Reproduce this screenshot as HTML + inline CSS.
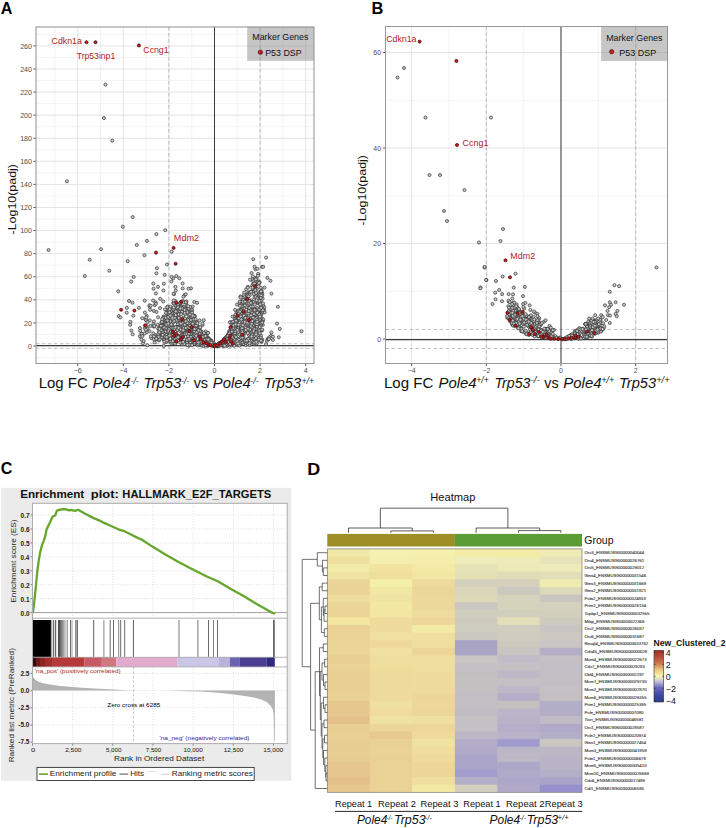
<!DOCTYPE html>
<html><head><meta charset="utf-8"><style>
html,body{margin:0;padding:0;background:#fff;width:726px;height:828px;overflow:hidden}
svg{display:block;font-family:"Liberation Sans", sans-serif}
</style></head><body>
<svg width="726" height="828" viewBox="0 0 726 828">
<rect x="0" y="0" width="726" height="828" fill="#fff"/>
<text x="0.8" y="14.1" font-size="16" fill="#000" font-weight="bold" textLength="11.63" lengthAdjust="spacingAndGlyphs">A</text>
<text x="371.6" y="14.2" font-size="16" fill="#000" font-weight="bold" textLength="11.84" lengthAdjust="spacingAndGlyphs">B</text>
<text x="0.84" y="474.4" font-size="16" fill="#000" font-weight="bold" textLength="11.6" lengthAdjust="spacingAndGlyphs">C</text>
<text x="307.2" y="474.5" font-size="16" fill="#000" font-weight="bold" textLength="12.95" lengthAdjust="spacingAndGlyphs">D</text>
<rect x="36" y="27" width="278" height="336.5" fill="#fff"/>
<line x1="54.9" y1="27" x2="54.9" y2="363.5" stroke="#efefef" stroke-width="0.7" />
<line x1="100.5" y1="27" x2="100.5" y2="363.5" stroke="#efefef" stroke-width="0.7" />
<line x1="146.1" y1="27" x2="146.1" y2="363.5" stroke="#efefef" stroke-width="0.7" />
<line x1="191.7" y1="27" x2="191.7" y2="363.5" stroke="#efefef" stroke-width="0.7" />
<line x1="237.3" y1="27" x2="237.3" y2="363.5" stroke="#efefef" stroke-width="0.7" />
<line x1="282.9" y1="27" x2="282.9" y2="363.5" stroke="#efefef" stroke-width="0.7" />
<line x1="36" y1="357.54" x2="314" y2="357.54" stroke="#efefef" stroke-width="0.7" />
<line x1="36" y1="334.46" x2="314" y2="334.46" stroke="#efefef" stroke-width="0.7" />
<line x1="36" y1="311.37" x2="314" y2="311.37" stroke="#efefef" stroke-width="0.7" />
<line x1="36" y1="288.29" x2="314" y2="288.29" stroke="#efefef" stroke-width="0.7" />
<line x1="36" y1="265.21" x2="314" y2="265.21" stroke="#efefef" stroke-width="0.7" />
<line x1="36" y1="242.12" x2="314" y2="242.12" stroke="#efefef" stroke-width="0.7" />
<line x1="36" y1="219.04" x2="314" y2="219.04" stroke="#efefef" stroke-width="0.7" />
<line x1="36" y1="195.95" x2="314" y2="195.95" stroke="#efefef" stroke-width="0.7" />
<line x1="36" y1="172.87" x2="314" y2="172.87" stroke="#efefef" stroke-width="0.7" />
<line x1="36" y1="149.79" x2="314" y2="149.79" stroke="#efefef" stroke-width="0.7" />
<line x1="36" y1="126.7" x2="314" y2="126.7" stroke="#efefef" stroke-width="0.7" />
<line x1="36" y1="103.62" x2="314" y2="103.62" stroke="#efefef" stroke-width="0.7" />
<line x1="36" y1="80.53" x2="314" y2="80.53" stroke="#efefef" stroke-width="0.7" />
<line x1="36" y1="57.45" x2="314" y2="57.45" stroke="#efefef" stroke-width="0.7" />
<line x1="36" y1="34.37" x2="314" y2="34.37" stroke="#efefef" stroke-width="0.7" />
<line x1="77.7" y1="27" x2="77.7" y2="363.5" stroke="#e3e3e3" stroke-width="0.95" />
<line x1="123.3" y1="27" x2="123.3" y2="363.5" stroke="#e3e3e3" stroke-width="0.95" />
<line x1="168.9" y1="27" x2="168.9" y2="363.5" stroke="#e3e3e3" stroke-width="0.95" />
<line x1="214.5" y1="27" x2="214.5" y2="363.5" stroke="#e3e3e3" stroke-width="0.95" />
<line x1="260.1" y1="27" x2="260.1" y2="363.5" stroke="#e3e3e3" stroke-width="0.95" />
<line x1="305.7" y1="27" x2="305.7" y2="363.5" stroke="#e3e3e3" stroke-width="0.95" />
<line x1="36" y1="346" x2="314" y2="346" stroke="#e3e3e3" stroke-width="0.95" />
<line x1="36" y1="322.92" x2="314" y2="322.92" stroke="#e3e3e3" stroke-width="0.95" />
<line x1="36" y1="299.83" x2="314" y2="299.83" stroke="#e3e3e3" stroke-width="0.95" />
<line x1="36" y1="276.75" x2="314" y2="276.75" stroke="#e3e3e3" stroke-width="0.95" />
<line x1="36" y1="253.66" x2="314" y2="253.66" stroke="#e3e3e3" stroke-width="0.95" />
<line x1="36" y1="230.58" x2="314" y2="230.58" stroke="#e3e3e3" stroke-width="0.95" />
<line x1="36" y1="207.5" x2="314" y2="207.5" stroke="#e3e3e3" stroke-width="0.95" />
<line x1="36" y1="184.41" x2="314" y2="184.41" stroke="#e3e3e3" stroke-width="0.95" />
<line x1="36" y1="161.33" x2="314" y2="161.33" stroke="#e3e3e3" stroke-width="0.95" />
<line x1="36" y1="138.24" x2="314" y2="138.24" stroke="#e3e3e3" stroke-width="0.95" />
<line x1="36" y1="115.16" x2="314" y2="115.16" stroke="#e3e3e3" stroke-width="0.95" />
<line x1="36" y1="92.08" x2="314" y2="92.08" stroke="#e3e3e3" stroke-width="0.95" />
<line x1="36" y1="68.99" x2="314" y2="68.99" stroke="#e3e3e3" stroke-width="0.95" />
<line x1="36" y1="45.91" x2="314" y2="45.91" stroke="#e3e3e3" stroke-width="0.95" />
<line x1="168.9" y1="27" x2="168.9" y2="363.5" stroke="#b0b0b0" stroke-width="0.8" stroke-dasharray="3.5,2.5"/>
<line x1="36" y1="348.31" x2="314" y2="348.31" stroke="#b0b0b0" stroke-width="0.8" stroke-dasharray="3.5,2.5"/>
<line x1="260.1" y1="27" x2="260.1" y2="363.5" stroke="#b0b0b0" stroke-width="0.8" stroke-dasharray="3.5,2.5"/>
<line x1="36" y1="343.69" x2="314" y2="343.69" stroke="#b0b0b0" stroke-width="0.8" stroke-dasharray="3.5,2.5"/>
<line x1="214.5" y1="27" x2="214.5" y2="363.5" stroke="#3a3a3a" stroke-width="1" />
<line x1="36" y1="345.5" x2="314" y2="345.5" stroke="#3c3c3c" stroke-width="1.25" />
<g fill="#c6c6c6" stroke="#333333" stroke-width="0.7"><circle cx="173.7" cy="314.3" r="1.55"/><circle cx="177.83" cy="316.29" r="1.55"/><circle cx="153.76" cy="310.86" r="1.55"/><circle cx="186.93" cy="331.09" r="1.55"/><circle cx="146.75" cy="332.29" r="1.55"/><circle cx="213.17" cy="343.46" r="1.55"/><circle cx="188.72" cy="318.32" r="1.55"/><circle cx="179.36" cy="278.29" r="1.55"/><circle cx="172.82" cy="334.65" r="1.55"/><circle cx="178.67" cy="320.1" r="1.55"/><circle cx="177.23" cy="321.7" r="1.55"/><circle cx="174.07" cy="294.03" r="1.55"/><circle cx="214.33" cy="345.69" r="1.55"/><circle cx="202.6" cy="324.96" r="1.55"/><circle cx="163.49" cy="290.54" r="1.55"/><circle cx="197.09" cy="302.83" r="1.55"/><circle cx="145.44" cy="319.32" r="1.55"/><circle cx="181.67" cy="306.21" r="1.55"/><circle cx="154.21" cy="326.7" r="1.55"/><circle cx="149.76" cy="320.35" r="1.55"/><circle cx="155.86" cy="293.43" r="1.55"/><circle cx="162.66" cy="337.71" r="1.55"/><circle cx="155.7" cy="302.39" r="1.55"/><circle cx="203.65" cy="320.21" r="1.55"/><circle cx="147.47" cy="345.23" r="1.55"/><circle cx="146.71" cy="315.96" r="1.55"/><circle cx="158.1" cy="317.29" r="1.55"/><circle cx="167.69" cy="306.63" r="1.55"/><circle cx="182.81" cy="336.39" r="1.55"/><circle cx="207.68" cy="332.88" r="1.55"/><circle cx="195.09" cy="341.71" r="1.55"/><circle cx="154.65" cy="342.41" r="1.55"/><circle cx="171.4" cy="281.48" r="1.55"/><circle cx="142.88" cy="343.31" r="1.55"/><circle cx="157.76" cy="324.73" r="1.55"/><circle cx="159.15" cy="333.31" r="1.55"/><circle cx="184.44" cy="295.13" r="1.55"/><circle cx="153.07" cy="325.87" r="1.55"/><circle cx="181.67" cy="335.37" r="1.55"/><circle cx="185.77" cy="294.18" r="1.55"/><circle cx="173.21" cy="278.35" r="1.55"/><circle cx="153.13" cy="300.55" r="1.55"/><circle cx="182.63" cy="283.47" r="1.55"/><circle cx="166.98" cy="338.15" r="1.55"/><circle cx="191.5" cy="316.08" r="1.55"/><circle cx="141.33" cy="339.54" r="1.55"/><circle cx="192.22" cy="343.32" r="1.55"/><circle cx="175.93" cy="326.6" r="1.55"/><circle cx="163.76" cy="345.95" r="1.55"/><circle cx="194.91" cy="338.81" r="1.55"/><circle cx="194.91" cy="324.67" r="1.55"/><circle cx="199.1" cy="339.88" r="1.55"/><circle cx="166.21" cy="323.33" r="1.55"/><circle cx="207.11" cy="336.72" r="1.55"/><circle cx="171.08" cy="330.92" r="1.55"/><circle cx="186.56" cy="301.53" r="1.55"/><circle cx="183.41" cy="317.84" r="1.55"/><circle cx="145.98" cy="320.04" r="1.55"/><circle cx="194.25" cy="301.97" r="1.55"/><circle cx="194.76" cy="315.83" r="1.55"/><circle cx="172.82" cy="334.36" r="1.55"/><circle cx="146.24" cy="328.02" r="1.55"/><circle cx="175.83" cy="290.58" r="1.55"/><circle cx="192.03" cy="309.8" r="1.55"/><circle cx="185.78" cy="340.27" r="1.55"/><circle cx="162.43" cy="322.83" r="1.55"/><circle cx="172.92" cy="338.2" r="1.55"/><circle cx="164.36" cy="321.94" r="1.55"/><circle cx="154.79" cy="305.02" r="1.55"/><circle cx="200.05" cy="339.82" r="1.55"/><circle cx="183.44" cy="296.79" r="1.55"/><circle cx="150.15" cy="309.75" r="1.55"/><circle cx="202.36" cy="335.11" r="1.55"/><circle cx="192.99" cy="342.4" r="1.55"/><circle cx="173.57" cy="293.81" r="1.55"/><circle cx="155.95" cy="303.81" r="1.55"/><circle cx="186.62" cy="309.56" r="1.55"/><circle cx="163.5" cy="334.42" r="1.55"/><circle cx="192.79" cy="315.08" r="1.55"/><circle cx="163.02" cy="330.99" r="1.55"/><circle cx="186.87" cy="306.15" r="1.55"/><circle cx="186.93" cy="321.16" r="1.55"/><circle cx="200.15" cy="343.01" r="1.55"/><circle cx="190.99" cy="288.35" r="1.55"/><circle cx="175.4" cy="286.87" r="1.55"/><circle cx="160.29" cy="298.89" r="1.55"/><circle cx="191.95" cy="311.47" r="1.55"/><circle cx="185.78" cy="328.45" r="1.55"/><circle cx="169.32" cy="331.02" r="1.55"/><circle cx="149.68" cy="306.65" r="1.55"/><circle cx="186.6" cy="339.52" r="1.55"/><circle cx="168.07" cy="314.95" r="1.55"/><circle cx="205.51" cy="331.37" r="1.55"/><circle cx="188.52" cy="288.75" r="1.55"/><circle cx="193.78" cy="332.92" r="1.55"/><circle cx="187.8" cy="325.67" r="1.55"/><circle cx="155.89" cy="338.8" r="1.55"/><circle cx="213.05" cy="344.37" r="1.55"/><circle cx="180" cy="330.94" r="1.55"/><circle cx="163.87" cy="339.52" r="1.55"/><circle cx="181" cy="329.31" r="1.55"/><circle cx="176.31" cy="276.05" r="1.55"/><circle cx="164.96" cy="330.73" r="1.55"/><circle cx="178.48" cy="326.1" r="1.55"/><circle cx="202.58" cy="323.63" r="1.55"/><circle cx="156.5" cy="311.92" r="1.55"/><circle cx="161.62" cy="326.48" r="1.55"/><circle cx="187.6" cy="311.64" r="1.55"/><circle cx="163.22" cy="301.45" r="1.55"/><circle cx="202.97" cy="338.84" r="1.55"/><circle cx="155.51" cy="335.26" r="1.55"/><circle cx="182.69" cy="288.47" r="1.55"/><circle cx="179.92" cy="310.23" r="1.55"/><circle cx="169.84" cy="331.68" r="1.55"/><circle cx="181.93" cy="309.35" r="1.55"/><circle cx="180.13" cy="303.79" r="1.55"/><circle cx="211.29" cy="340.49" r="1.55"/><circle cx="160.06" cy="308.07" r="1.55"/><circle cx="149.46" cy="305.22" r="1.55"/><circle cx="200.77" cy="338.84" r="1.55"/><circle cx="146.58" cy="325.93" r="1.55"/><circle cx="141.45" cy="333.45" r="1.55"/><circle cx="150.37" cy="326.05" r="1.55"/><circle cx="144.4" cy="333.49" r="1.55"/><circle cx="139.89" cy="336.27" r="1.55"/><circle cx="140.21" cy="330.76" r="1.55"/><circle cx="147.55" cy="328.92" r="1.55"/><circle cx="144.76" cy="328.34" r="1.55"/><circle cx="147.53" cy="321.99" r="1.55"/><circle cx="141.68" cy="333.78" r="1.55"/><circle cx="149.49" cy="331.24" r="1.55"/><circle cx="153.32" cy="333.29" r="1.55"/><circle cx="153.42" cy="323.82" r="1.55"/><circle cx="151.33" cy="338.26" r="1.55"/><circle cx="154.25" cy="325.9" r="1.55"/><circle cx="143.67" cy="341.07" r="1.55"/><circle cx="153.98" cy="321.35" r="1.55"/><circle cx="142.31" cy="336.16" r="1.55"/><circle cx="170.44" cy="319.4" r="1.55"/><circle cx="178.97" cy="309.24" r="1.55"/><circle cx="195.6" cy="341.92" r="1.55"/><circle cx="185.63" cy="308.49" r="1.55"/><circle cx="167.13" cy="338.65" r="1.55"/><circle cx="182.49" cy="321.48" r="1.55"/><circle cx="185.66" cy="319.78" r="1.55"/><circle cx="190.76" cy="338.84" r="1.55"/><circle cx="165.79" cy="320.88" r="1.55"/><circle cx="192.45" cy="318.61" r="1.55"/><circle cx="190.68" cy="337.02" r="1.55"/><circle cx="170.37" cy="341.92" r="1.55"/><circle cx="208.34" cy="340.47" r="1.55"/><circle cx="175.33" cy="316.36" r="1.55"/><circle cx="193" cy="328.7" r="1.55"/><circle cx="168.81" cy="315.54" r="1.55"/><circle cx="194.26" cy="326.2" r="1.55"/><circle cx="186.72" cy="329.54" r="1.55"/><circle cx="196.72" cy="335.04" r="1.55"/><circle cx="178.89" cy="317.28" r="1.55"/><circle cx="208.89" cy="344.49" r="1.55"/><circle cx="188.79" cy="345.77" r="1.55"/><circle cx="192.96" cy="327.49" r="1.55"/><circle cx="184.48" cy="328.11" r="1.55"/><circle cx="190.57" cy="316.82" r="1.55"/><circle cx="172" cy="313.04" r="1.55"/><circle cx="208.4" cy="345.48" r="1.55"/><circle cx="208.88" cy="344.77" r="1.55"/><circle cx="169.5" cy="324.07" r="1.55"/><circle cx="210.77" cy="345.03" r="1.55"/><circle cx="162.4" cy="320.96" r="1.55"/><circle cx="170.6" cy="326.78" r="1.55"/><circle cx="169.19" cy="336.08" r="1.55"/><circle cx="192.19" cy="316.52" r="1.55"/><circle cx="171.15" cy="327.22" r="1.55"/><circle cx="192.67" cy="334.65" r="1.55"/><circle cx="166.29" cy="342.12" r="1.55"/><circle cx="158.62" cy="328.67" r="1.55"/><circle cx="161.1" cy="324.92" r="1.55"/><circle cx="192.55" cy="317.17" r="1.55"/><circle cx="183.47" cy="334.26" r="1.55"/><circle cx="162.13" cy="335.36" r="1.55"/><circle cx="167.68" cy="319.52" r="1.55"/><circle cx="170.36" cy="330.07" r="1.55"/><circle cx="187.64" cy="319.67" r="1.55"/><circle cx="176.97" cy="304.46" r="1.55"/><circle cx="183.85" cy="331.53" r="1.55"/><circle cx="172.78" cy="309.81" r="1.55"/><circle cx="173.08" cy="313.01" r="1.55"/><circle cx="163.5" cy="316.46" r="1.55"/><circle cx="198.2" cy="332.63" r="1.55"/><circle cx="188.87" cy="342.25" r="1.55"/><circle cx="173.13" cy="314.61" r="1.55"/><circle cx="178.78" cy="311.42" r="1.55"/><circle cx="176.52" cy="316.82" r="1.55"/><circle cx="176.62" cy="308.97" r="1.55"/><circle cx="188.55" cy="336.67" r="1.55"/><circle cx="187.16" cy="308.12" r="1.55"/><circle cx="200.16" cy="340.52" r="1.55"/><circle cx="171.75" cy="325.03" r="1.55"/><circle cx="188.76" cy="344.46" r="1.55"/><circle cx="193.75" cy="325.15" r="1.55"/><circle cx="192.73" cy="306.62" r="1.55"/><circle cx="200.5" cy="344.54" r="1.55"/><circle cx="195.01" cy="322.71" r="1.55"/><circle cx="186.97" cy="342.09" r="1.55"/><circle cx="179.43" cy="338.01" r="1.55"/><circle cx="194.67" cy="338.36" r="1.55"/><circle cx="207.87" cy="344.06" r="1.55"/><circle cx="193.1" cy="336.9" r="1.55"/><circle cx="180.09" cy="319.34" r="1.55"/><circle cx="163.7" cy="317.27" r="1.55"/><circle cx="164.98" cy="309.4" r="1.55"/><circle cx="180.28" cy="302.72" r="1.55"/><circle cx="182.3" cy="326.87" r="1.55"/><circle cx="167.93" cy="310.83" r="1.55"/><circle cx="171.72" cy="307.94" r="1.55"/><circle cx="200.07" cy="337.59" r="1.55"/><circle cx="183.53" cy="311.98" r="1.55"/><circle cx="168.15" cy="336.87" r="1.55"/><circle cx="177.91" cy="324.27" r="1.55"/><circle cx="185.69" cy="330.25" r="1.55"/><circle cx="183.12" cy="332.81" r="1.55"/><circle cx="164.34" cy="339.99" r="1.55"/><circle cx="185.71" cy="329.3" r="1.55"/><circle cx="171.06" cy="332.96" r="1.55"/><circle cx="189.9" cy="339.44" r="1.55"/><circle cx="173.06" cy="342.17" r="1.55"/><circle cx="160.41" cy="338.01" r="1.55"/><circle cx="167.4" cy="307.25" r="1.55"/><circle cx="173.49" cy="321.49" r="1.55"/><circle cx="195.88" cy="321.24" r="1.55"/><circle cx="193.91" cy="332.66" r="1.55"/><circle cx="169.13" cy="325.95" r="1.55"/><circle cx="182.26" cy="336.77" r="1.55"/><circle cx="167.3" cy="328.34" r="1.55"/><circle cx="172.28" cy="313.72" r="1.55"/><circle cx="175.07" cy="318.04" r="1.55"/><circle cx="194.67" cy="333.65" r="1.55"/><circle cx="174.6" cy="343.47" r="1.55"/><circle cx="188.49" cy="338.04" r="1.55"/><circle cx="178.94" cy="338.5" r="1.55"/><circle cx="193.51" cy="335.28" r="1.55"/><circle cx="178.84" cy="336.32" r="1.55"/><circle cx="194.28" cy="328" r="1.55"/><circle cx="185.31" cy="328.13" r="1.55"/><circle cx="164.42" cy="335.26" r="1.55"/><circle cx="163.43" cy="332.82" r="1.55"/><circle cx="189.3" cy="332.07" r="1.55"/><circle cx="174.59" cy="321.3" r="1.55"/><circle cx="163.07" cy="325.79" r="1.55"/><circle cx="188.34" cy="312.16" r="1.55"/><circle cx="162.3" cy="337.93" r="1.55"/><circle cx="172.17" cy="326.38" r="1.55"/><circle cx="187.6" cy="308.28" r="1.55"/><circle cx="194.17" cy="333.93" r="1.55"/><circle cx="177.71" cy="327.23" r="1.55"/><circle cx="163.51" cy="317.77" r="1.55"/><circle cx="188.89" cy="312.13" r="1.55"/><circle cx="188.8" cy="315.28" r="1.55"/><circle cx="182.96" cy="331.71" r="1.55"/><circle cx="200.1" cy="334.58" r="1.55"/><circle cx="183.9" cy="339.33" r="1.55"/><circle cx="179.34" cy="319.96" r="1.55"/><circle cx="188.68" cy="324.15" r="1.55"/><circle cx="180.72" cy="341.6" r="1.55"/><circle cx="174.08" cy="341.41" r="1.55"/><circle cx="198.55" cy="327.49" r="1.55"/><circle cx="184.91" cy="331.97" r="1.55"/><circle cx="186.31" cy="311" r="1.55"/><circle cx="173.22" cy="303.15" r="1.55"/><circle cx="209.22" cy="344.46" r="1.55"/><circle cx="194.61" cy="337.04" r="1.55"/><circle cx="168.2" cy="334.34" r="1.55"/><circle cx="188.72" cy="336.45" r="1.55"/><circle cx="162.37" cy="324.73" r="1.55"/><circle cx="174.32" cy="302.88" r="1.55"/><circle cx="210.57" cy="344.95" r="1.55"/><circle cx="183.12" cy="342.44" r="1.55"/><circle cx="207.34" cy="345.79" r="1.55"/><circle cx="167.02" cy="340.49" r="1.55"/><circle cx="198.18" cy="340" r="1.55"/><circle cx="168.28" cy="314.13" r="1.55"/><circle cx="194.54" cy="336.36" r="1.55"/><circle cx="177.16" cy="327.14" r="1.55"/><circle cx="168.63" cy="313.84" r="1.55"/><circle cx="181.2" cy="302.09" r="1.55"/><circle cx="190.68" cy="313.09" r="1.55"/><circle cx="169.93" cy="313.12" r="1.55"/><circle cx="171.61" cy="341.26" r="1.55"/><circle cx="182.47" cy="342.75" r="1.55"/><circle cx="184.74" cy="308.28" r="1.55"/><circle cx="188.08" cy="330.28" r="1.55"/><circle cx="185.08" cy="323.94" r="1.55"/><circle cx="181.21" cy="335.56" r="1.55"/><circle cx="168.16" cy="326.68" r="1.55"/><circle cx="184.69" cy="332.88" r="1.55"/><circle cx="189.07" cy="340.15" r="1.55"/><circle cx="165.71" cy="322.82" r="1.55"/><circle cx="180.86" cy="320.32" r="1.55"/><circle cx="170.65" cy="341.74" r="1.55"/><circle cx="188.85" cy="324.99" r="1.55"/><circle cx="191.96" cy="327.08" r="1.55"/><circle cx="160.26" cy="337.75" r="1.55"/><circle cx="165.21" cy="331.77" r="1.55"/><circle cx="204.44" cy="336.19" r="1.55"/><circle cx="184.13" cy="306.65" r="1.55"/><circle cx="182.09" cy="334.27" r="1.55"/><circle cx="178.38" cy="313.71" r="1.55"/><circle cx="200.42" cy="333.77" r="1.55"/><circle cx="168.68" cy="311.12" r="1.55"/><circle cx="182.46" cy="342.89" r="1.55"/><circle cx="176.66" cy="328.1" r="1.55"/><circle cx="193.66" cy="331.96" r="1.55"/><circle cx="207.74" cy="338.78" r="1.55"/><circle cx="177.68" cy="335.94" r="1.55"/><circle cx="167.82" cy="325.28" r="1.55"/><circle cx="167.76" cy="320.57" r="1.55"/><circle cx="159.33" cy="331.8" r="1.55"/><circle cx="176.59" cy="308.37" r="1.55"/><circle cx="170.61" cy="318.08" r="1.55"/><circle cx="176.4" cy="341.73" r="1.55"/><circle cx="177.87" cy="314.96" r="1.55"/><circle cx="163.98" cy="327.39" r="1.55"/><circle cx="163.09" cy="332.5" r="1.55"/><circle cx="170.49" cy="306.77" r="1.55"/><circle cx="167.19" cy="312.9" r="1.55"/><circle cx="197.41" cy="339.83" r="1.55"/><circle cx="168.45" cy="313.44" r="1.55"/><circle cx="175.52" cy="301.13" r="1.55"/><circle cx="192.51" cy="326.03" r="1.55"/><circle cx="196.01" cy="339.95" r="1.55"/><circle cx="168.96" cy="329.1" r="1.55"/><circle cx="177.81" cy="315.1" r="1.55"/><circle cx="184.58" cy="318.51" r="1.55"/><circle cx="183.28" cy="307.67" r="1.55"/><circle cx="180.13" cy="306.94" r="1.55"/><circle cx="189.67" cy="332.21" r="1.55"/><circle cx="184.49" cy="326.95" r="1.55"/><circle cx="182.9" cy="301.08" r="1.55"/><circle cx="175.65" cy="341.02" r="1.55"/><circle cx="188.66" cy="308.56" r="1.55"/><circle cx="182.92" cy="328.3" r="1.55"/><circle cx="211.8" cy="343.35" r="1.55"/><circle cx="191.94" cy="312.7" r="1.55"/><circle cx="204.36" cy="340.47" r="1.55"/><circle cx="177.72" cy="306.25" r="1.55"/><circle cx="185.17" cy="314.2" r="1.55"/><circle cx="176.44" cy="308.85" r="1.55"/><circle cx="168.6" cy="331.29" r="1.55"/><circle cx="168.96" cy="318.12" r="1.55"/><circle cx="169.24" cy="322.71" r="1.55"/><circle cx="193.68" cy="325.8" r="1.55"/><circle cx="204.45" cy="344.57" r="1.55"/><circle cx="174.84" cy="314.41" r="1.55"/><circle cx="197.6" cy="331.99" r="1.55"/><circle cx="191.99" cy="322.57" r="1.55"/><circle cx="188.55" cy="334.45" r="1.55"/><circle cx="186.77" cy="310.9" r="1.55"/><circle cx="169.83" cy="323.63" r="1.55"/><circle cx="181.87" cy="335.52" r="1.55"/><circle cx="183.6" cy="340.01" r="1.55"/><circle cx="185.19" cy="332.93" r="1.55"/><circle cx="169.98" cy="332.92" r="1.55"/><circle cx="174.45" cy="338.76" r="1.55"/><circle cx="180.03" cy="338.23" r="1.55"/><circle cx="177.43" cy="308.49" r="1.55"/><circle cx="179.95" cy="329.05" r="1.55"/><circle cx="173.4" cy="336.82" r="1.55"/><circle cx="200.54" cy="345.12" r="1.55"/><circle cx="178.17" cy="336.81" r="1.55"/><circle cx="161.37" cy="322.46" r="1.55"/><circle cx="171.3" cy="310.47" r="1.55"/><circle cx="183.69" cy="302.36" r="1.55"/><circle cx="173.41" cy="322.24" r="1.55"/><circle cx="167.03" cy="319.07" r="1.55"/><circle cx="158.43" cy="328.66" r="1.55"/><circle cx="171.49" cy="343.19" r="1.55"/><circle cx="176.36" cy="334.66" r="1.55"/><circle cx="173.45" cy="309.67" r="1.55"/><circle cx="186.37" cy="333.83" r="1.55"/><circle cx="178.76" cy="336.94" r="1.55"/><circle cx="178.11" cy="337.29" r="1.55"/><circle cx="176.7" cy="329.35" r="1.55"/><circle cx="176.07" cy="314.79" r="1.55"/><circle cx="184.9" cy="324.71" r="1.55"/><circle cx="180.59" cy="318.78" r="1.55"/><circle cx="171.27" cy="314.82" r="1.55"/><circle cx="165.91" cy="316.43" r="1.55"/><circle cx="177.5" cy="329.62" r="1.55"/><circle cx="167.63" cy="339.39" r="1.55"/><circle cx="192.4" cy="323.22" r="1.55"/><circle cx="188.78" cy="331.73" r="1.55"/><circle cx="181.97" cy="330.61" r="1.55"/><circle cx="179.95" cy="327.63" r="1.55"/><circle cx="189.08" cy="323.7" r="1.55"/><circle cx="190.38" cy="342.85" r="1.55"/><circle cx="164.04" cy="333.95" r="1.55"/><circle cx="173.62" cy="333.89" r="1.55"/><circle cx="184.22" cy="329.86" r="1.55"/><circle cx="204.34" cy="345.71" r="1.55"/><circle cx="158.86" cy="340.02" r="1.55"/><circle cx="186.91" cy="339.82" r="1.55"/><circle cx="188.02" cy="336.21" r="1.55"/><circle cx="184.2" cy="339.33" r="1.55"/><circle cx="175.57" cy="305.4" r="1.55"/><circle cx="165.81" cy="317.88" r="1.55"/><circle cx="194.77" cy="319.82" r="1.55"/><circle cx="171.57" cy="327.74" r="1.55"/><circle cx="196.34" cy="331.91" r="1.55"/><circle cx="181.15" cy="307.49" r="1.55"/><circle cx="159.25" cy="333.97" r="1.55"/><circle cx="164.26" cy="341.8" r="1.55"/><circle cx="195.23" cy="326.11" r="1.55"/><circle cx="177.52" cy="304.54" r="1.55"/><circle cx="191.45" cy="322.16" r="1.55"/><circle cx="180.55" cy="324.26" r="1.55"/><circle cx="210.85" cy="340.86" r="1.55"/><circle cx="188.2" cy="320.04" r="1.55"/><circle cx="206.54" cy="342.38" r="1.55"/><circle cx="180.43" cy="342.58" r="1.55"/><circle cx="176.23" cy="320.21" r="1.55"/><circle cx="156.01" cy="336.58" r="1.55"/><circle cx="169.58" cy="312.35" r="1.55"/><circle cx="195.43" cy="337.63" r="1.55"/><circle cx="167.29" cy="338.99" r="1.55"/><circle cx="167.73" cy="323.75" r="1.55"/><circle cx="173.35" cy="327.97" r="1.55"/><circle cx="186.12" cy="302.83" r="1.55"/><circle cx="208.03" cy="342.67" r="1.55"/><circle cx="197.19" cy="338.21" r="1.55"/><circle cx="173.49" cy="309.21" r="1.55"/><circle cx="191.56" cy="324.99" r="1.55"/><circle cx="174.61" cy="329.15" r="1.55"/><circle cx="189.85" cy="344.89" r="1.55"/><circle cx="203.79" cy="341.07" r="1.55"/><circle cx="195.82" cy="331.79" r="1.55"/><circle cx="177.08" cy="329.4" r="1.55"/><circle cx="165.63" cy="324.55" r="1.55"/><circle cx="160.94" cy="329.04" r="1.55"/><circle cx="198.36" cy="338.5" r="1.55"/><circle cx="190.94" cy="336.87" r="1.55"/><circle cx="167.84" cy="335.54" r="1.55"/><circle cx="159.48" cy="330.4" r="1.55"/><circle cx="207.99" cy="332.94" r="1.55"/><circle cx="173.94" cy="303.5" r="1.55"/><circle cx="201.33" cy="332.93" r="1.55"/><circle cx="183.71" cy="309.63" r="1.55"/><circle cx="157.52" cy="337.7" r="1.55"/><circle cx="170.37" cy="321.4" r="1.55"/><circle cx="165.6" cy="323.99" r="1.55"/><circle cx="205.17" cy="336.49" r="1.55"/><circle cx="205.13" cy="342.51" r="1.55"/><circle cx="177.4" cy="330.04" r="1.55"/><circle cx="205.99" cy="338.49" r="1.55"/><circle cx="161.61" cy="337.37" r="1.55"/><circle cx="197.9" cy="334.66" r="1.55"/><circle cx="158.89" cy="335.17" r="1.55"/><circle cx="204.98" cy="341.59" r="1.55"/><circle cx="178.01" cy="307.17" r="1.55"/><circle cx="209.43" cy="342.84" r="1.55"/><circle cx="182.56" cy="343.03" r="1.55"/><circle cx="187.49" cy="322.96" r="1.55"/><circle cx="208.49" cy="343.63" r="1.55"/><circle cx="168.14" cy="322.14" r="1.55"/><circle cx="178.83" cy="317.86" r="1.55"/><circle cx="180.18" cy="302.69" r="1.55"/><circle cx="204.23" cy="341.55" r="1.55"/><circle cx="176.98" cy="311.46" r="1.55"/><circle cx="158.2" cy="333.96" r="1.55"/><circle cx="166.39" cy="335" r="1.55"/><circle cx="182.46" cy="344.19" r="1.55"/><circle cx="189.09" cy="331.4" r="1.55"/><circle cx="175.06" cy="313.49" r="1.55"/><circle cx="190.07" cy="325.87" r="1.55"/><circle cx="184.26" cy="334.72" r="1.55"/><circle cx="168.88" cy="335.92" r="1.55"/><circle cx="178.59" cy="314.39" r="1.55"/><circle cx="194.49" cy="316.5" r="1.55"/><circle cx="171.84" cy="335.95" r="1.55"/><circle cx="201.27" cy="341.6" r="1.55"/><circle cx="191.04" cy="330.6" r="1.55"/><circle cx="210.4" cy="341.53" r="1.55"/><circle cx="198.06" cy="330.04" r="1.55"/><circle cx="194.48" cy="324.46" r="1.55"/><circle cx="200.84" cy="335.18" r="1.55"/><circle cx="198.97" cy="332.37" r="1.55"/><circle cx="159.37" cy="332.25" r="1.55"/><circle cx="197.92" cy="342.28" r="1.55"/><circle cx="193.64" cy="332.08" r="1.55"/><circle cx="159.08" cy="340.35" r="1.55"/><circle cx="187.01" cy="342.9" r="1.55"/><circle cx="165.2" cy="336.9" r="1.55"/><circle cx="159.71" cy="339.24" r="1.55"/><circle cx="181.52" cy="319.47" r="1.55"/><circle cx="194.15" cy="343.85" r="1.55"/><circle cx="182.85" cy="335.57" r="1.55"/><circle cx="158.58" cy="336.87" r="1.55"/><circle cx="162.41" cy="325.16" r="1.55"/><circle cx="162.24" cy="325.9" r="1.55"/><circle cx="188.96" cy="328.04" r="1.55"/><circle cx="204.64" cy="337.69" r="1.55"/><circle cx="188.49" cy="313.63" r="1.55"/><circle cx="195.59" cy="325.38" r="1.55"/><circle cx="168.33" cy="316.83" r="1.55"/><circle cx="156.01" cy="339.21" r="1.55"/><circle cx="175.6" cy="327.39" r="1.55"/><circle cx="186.97" cy="344.91" r="1.55"/><circle cx="208.85" cy="338.36" r="1.55"/><circle cx="199.07" cy="327.4" r="1.55"/><circle cx="171.16" cy="331.86" r="1.55"/><circle cx="187.5" cy="327.32" r="1.55"/><circle cx="172.81" cy="335.14" r="1.55"/><circle cx="202.36" cy="336.77" r="1.55"/><circle cx="201" cy="337.63" r="1.55"/><circle cx="190.11" cy="314.5" r="1.55"/><circle cx="199.81" cy="344.03" r="1.55"/><circle cx="195.08" cy="325.62" r="1.55"/><circle cx="211.44" cy="345.45" r="1.55"/><circle cx="197.43" cy="326.1" r="1.55"/><circle cx="167.57" cy="320.58" r="1.55"/><circle cx="170.31" cy="315.52" r="1.55"/><circle cx="160.22" cy="326.71" r="1.55"/><circle cx="169.35" cy="325.38" r="1.55"/><circle cx="206.61" cy="345.05" r="1.55"/><circle cx="190.09" cy="331.03" r="1.55"/><circle cx="197.87" cy="343.73" r="1.55"/><circle cx="200.45" cy="331.03" r="1.55"/><circle cx="201.21" cy="331.3" r="1.55"/><circle cx="180.3" cy="342.43" r="1.55"/><circle cx="183.6" cy="328.09" r="1.55"/><circle cx="173.8" cy="307.52" r="1.55"/><circle cx="193.07" cy="322.06" r="1.55"/><circle cx="187.34" cy="312.22" r="1.55"/><circle cx="213.8" cy="343.19" r="1.55"/><circle cx="193.65" cy="321.98" r="1.55"/><circle cx="153.85" cy="339.37" r="1.55"/><circle cx="205.46" cy="342.76" r="1.55"/><circle cx="184.57" cy="312.63" r="1.55"/><circle cx="184.92" cy="318.67" r="1.55"/><circle cx="183.19" cy="320.71" r="1.55"/><circle cx="182.37" cy="308.55" r="1.55"/><circle cx="182.43" cy="322.72" r="1.55"/><circle cx="160.43" cy="326.26" r="1.55"/><circle cx="172.98" cy="342.67" r="1.55"/><circle cx="211.37" cy="345.23" r="1.55"/><circle cx="205.66" cy="340.63" r="1.55"/><circle cx="188.92" cy="333.57" r="1.55"/><circle cx="190.3" cy="306.94" r="1.55"/><circle cx="184.45" cy="344.01" r="1.55"/><circle cx="195.03" cy="332.64" r="1.55"/><circle cx="188.25" cy="306.19" r="1.55"/><circle cx="156.24" cy="338.54" r="1.55"/><circle cx="212.96" cy="345.89" r="1.55"/><circle cx="173.67" cy="300.33" r="1.55"/><circle cx="200.14" cy="336.48" r="1.55"/><circle cx="172.96" cy="331.77" r="1.55"/><circle cx="180.43" cy="308.58" r="1.55"/><circle cx="161.37" cy="330.21" r="1.55"/><circle cx="181.94" cy="311.86" r="1.55"/><circle cx="192.9" cy="319.79" r="1.55"/><circle cx="184.67" cy="309.86" r="1.55"/><circle cx="166.51" cy="324.67" r="1.55"/><circle cx="172.6" cy="335.05" r="1.55"/><circle cx="185.76" cy="302.2" r="1.55"/><circle cx="199.72" cy="334.03" r="1.55"/><circle cx="175.17" cy="343.68" r="1.55"/><circle cx="176.2" cy="311.14" r="1.55"/><circle cx="201.35" cy="342.38" r="1.55"/><circle cx="175.72" cy="311.41" r="1.55"/><circle cx="189.08" cy="338.86" r="1.55"/><circle cx="183.19" cy="341.87" r="1.55"/><circle cx="160.97" cy="325.85" r="1.55"/><circle cx="206.88" cy="344.27" r="1.55"/><circle cx="210.17" cy="340.41" r="1.55"/><circle cx="196.66" cy="325.11" r="1.55"/><circle cx="194.39" cy="342.39" r="1.55"/><circle cx="197.4" cy="332.48" r="1.55"/><circle cx="159.51" cy="328.96" r="1.55"/><circle cx="210.68" cy="344.36" r="1.55"/><circle cx="171.18" cy="325.41" r="1.55"/><circle cx="185.77" cy="327.98" r="1.55"/><circle cx="199.64" cy="320.45" r="1.55"/><circle cx="165.93" cy="312.92" r="1.55"/><circle cx="171.34" cy="324.39" r="1.55"/><circle cx="162.02" cy="321.86" r="1.55"/><circle cx="187.53" cy="344.84" r="1.55"/><circle cx="180.73" cy="329.44" r="1.55"/><circle cx="204.88" cy="345.21" r="1.55"/><circle cx="213.12" cy="344.92" r="1.55"/><circle cx="199.67" cy="328.09" r="1.55"/><circle cx="162.81" cy="335.41" r="1.55"/><circle cx="165.22" cy="336.65" r="1.55"/><circle cx="183.2" cy="330.39" r="1.55"/><circle cx="181.07" cy="314.24" r="1.55"/><circle cx="168.29" cy="323.53" r="1.55"/><circle cx="190.99" cy="319.94" r="1.55"/><circle cx="174.29" cy="321.05" r="1.55"/><circle cx="185.76" cy="321.32" r="1.55"/><circle cx="172.78" cy="341.18" r="1.55"/><circle cx="205.31" cy="344.5" r="1.55"/><circle cx="162.16" cy="319.12" r="1.55"/><circle cx="162.69" cy="334.86" r="1.55"/><circle cx="166.69" cy="340.69" r="1.55"/><circle cx="169.75" cy="309.11" r="1.55"/><circle cx="194.96" cy="330.27" r="1.55"/><circle cx="209.66" cy="344.87" r="1.55"/><circle cx="175.68" cy="315.1" r="1.55"/><circle cx="187.89" cy="331.09" r="1.55"/><circle cx="180.89" cy="323.54" r="1.55"/><circle cx="192.08" cy="345.03" r="1.55"/><circle cx="169.51" cy="335.5" r="1.55"/><circle cx="166.65" cy="337.08" r="1.55"/><circle cx="201.87" cy="337.47" r="1.55"/><circle cx="178.64" cy="327.89" r="1.55"/><circle cx="211.12" cy="340.9" r="1.55"/><circle cx="204.57" cy="339.8" r="1.55"/><circle cx="173.41" cy="337.06" r="1.55"/><circle cx="202.22" cy="345.69" r="1.55"/><circle cx="209.32" cy="343.67" r="1.55"/><circle cx="261.05" cy="330.5" r="1.55"/><circle cx="243.93" cy="294.77" r="1.55"/><circle cx="260.03" cy="315.62" r="1.55"/><circle cx="266.89" cy="340.74" r="1.55"/><circle cx="251.55" cy="273.03" r="1.55"/><circle cx="252.86" cy="276.53" r="1.55"/><circle cx="270.98" cy="335.97" r="1.55"/><circle cx="254.42" cy="327.13" r="1.55"/><circle cx="258.7" cy="329.26" r="1.55"/><circle cx="264.73" cy="312.39" r="1.55"/><circle cx="242.79" cy="297.99" r="1.55"/><circle cx="259.08" cy="322.17" r="1.55"/><circle cx="244.16" cy="292.65" r="1.55"/><circle cx="251.75" cy="321.53" r="1.55"/><circle cx="267.81" cy="339.1" r="1.55"/><circle cx="231.21" cy="342.26" r="1.55"/><circle cx="250.11" cy="343.08" r="1.55"/><circle cx="259.01" cy="294" r="1.55"/><circle cx="264.09" cy="309.77" r="1.55"/><circle cx="241.7" cy="326.08" r="1.55"/><circle cx="247.89" cy="286.82" r="1.55"/><circle cx="244.8" cy="342.02" r="1.55"/><circle cx="251.28" cy="300.32" r="1.55"/><circle cx="241.75" cy="342.81" r="1.55"/><circle cx="253.92" cy="327.47" r="1.55"/><circle cx="246.42" cy="318.01" r="1.55"/><circle cx="268.46" cy="338.4" r="1.55"/><circle cx="246.2" cy="289.26" r="1.55"/><circle cx="255.88" cy="324.69" r="1.55"/><circle cx="232.86" cy="327.82" r="1.55"/><circle cx="251.74" cy="323.07" r="1.55"/><circle cx="240.76" cy="301.73" r="1.55"/><circle cx="269.39" cy="337.3" r="1.55"/><circle cx="229.99" cy="322.17" r="1.55"/><circle cx="238.97" cy="312.71" r="1.55"/><circle cx="257.29" cy="299.44" r="1.55"/><circle cx="251.85" cy="321.14" r="1.55"/><circle cx="255.35" cy="278.03" r="1.55"/><circle cx="236.98" cy="304.55" r="1.55"/><circle cx="220.57" cy="342.39" r="1.55"/><circle cx="263.5" cy="305.96" r="1.55"/><circle cx="248.3" cy="292.62" r="1.55"/><circle cx="264.28" cy="307.69" r="1.55"/><circle cx="260" cy="323.23" r="1.55"/><circle cx="240.28" cy="296.53" r="1.55"/><circle cx="239.62" cy="303.34" r="1.55"/><circle cx="232.64" cy="316.66" r="1.55"/><circle cx="258.93" cy="303.5" r="1.55"/><circle cx="241.73" cy="336.61" r="1.55"/><circle cx="240.64" cy="297.33" r="1.55"/><circle cx="266.13" cy="344.16" r="1.55"/><circle cx="259.68" cy="299.31" r="1.55"/><circle cx="253.09" cy="325.79" r="1.55"/><circle cx="231.53" cy="324.47" r="1.55"/><circle cx="252.96" cy="301.94" r="1.55"/><circle cx="252.07" cy="285.63" r="1.55"/><circle cx="258.8" cy="310.05" r="1.55"/><circle cx="255.42" cy="269.31" r="1.55"/><circle cx="238.43" cy="327.78" r="1.55"/><circle cx="248.02" cy="332.06" r="1.55"/><circle cx="262.65" cy="298.52" r="1.55"/><circle cx="248.45" cy="323.55" r="1.55"/><circle cx="258.3" cy="326.24" r="1.55"/><circle cx="247.79" cy="287.62" r="1.55"/><circle cx="255.05" cy="311.78" r="1.55"/><circle cx="245.8" cy="344.99" r="1.55"/><circle cx="233.17" cy="324.67" r="1.55"/><circle cx="247.11" cy="309.21" r="1.55"/><circle cx="250.46" cy="337.69" r="1.55"/><circle cx="252.64" cy="290.55" r="1.55"/><circle cx="260.85" cy="300.76" r="1.55"/><circle cx="240.97" cy="309.33" r="1.55"/><circle cx="258.14" cy="273.88" r="1.55"/><circle cx="231.77" cy="321.97" r="1.55"/><circle cx="254.19" cy="332.62" r="1.55"/><circle cx="235.11" cy="309.91" r="1.55"/><circle cx="252.29" cy="279.59" r="1.55"/><circle cx="232.39" cy="336.06" r="1.55"/><circle cx="256.99" cy="288.62" r="1.55"/><circle cx="242.62" cy="322.24" r="1.55"/><circle cx="254.95" cy="322.54" r="1.55"/><circle cx="233.88" cy="336.52" r="1.55"/><circle cx="261.21" cy="312.46" r="1.55"/><circle cx="249.53" cy="344.99" r="1.55"/><circle cx="250.13" cy="279.72" r="1.55"/><circle cx="239.8" cy="301.63" r="1.55"/><circle cx="262.09" cy="339.4" r="1.55"/><circle cx="253.43" cy="281.37" r="1.55"/><circle cx="234.92" cy="323.1" r="1.55"/><circle cx="226.92" cy="336.85" r="1.55"/><circle cx="211.63" cy="343.53" r="1.55"/><circle cx="200.2" cy="327.24" r="1.55"/><circle cx="207.65" cy="338.23" r="1.55"/><circle cx="210.93" cy="342.41" r="1.55"/><circle cx="193" cy="324.91" r="1.55"/><circle cx="214.16" cy="345.64" r="1.55"/><circle cx="194.29" cy="316.36" r="1.55"/><circle cx="207.68" cy="343.25" r="1.55"/><circle cx="207.65" cy="340.38" r="1.55"/><circle cx="202.52" cy="335.71" r="1.55"/><circle cx="200.1" cy="331.1" r="1.55"/><circle cx="198.57" cy="330.44" r="1.55"/><circle cx="205.32" cy="337.55" r="1.55"/><circle cx="194.54" cy="331.44" r="1.55"/><circle cx="199.02" cy="343.54" r="1.55"/><circle cx="208.97" cy="344.02" r="1.55"/><circle cx="203.26" cy="337.32" r="1.55"/><circle cx="200.78" cy="337.16" r="1.55"/><circle cx="203.99" cy="343.12" r="1.55"/><circle cx="212.08" cy="344.12" r="1.55"/><circle cx="192.72" cy="339.26" r="1.55"/><circle cx="205.96" cy="344.6" r="1.55"/><circle cx="210.81" cy="344.7" r="1.55"/><circle cx="207.56" cy="340.93" r="1.55"/><circle cx="204.44" cy="344.46" r="1.55"/><circle cx="214.31" cy="345.8" r="1.55"/><circle cx="197.56" cy="345.29" r="1.55"/><circle cx="204.23" cy="344.17" r="1.55"/><circle cx="203.63" cy="345.86" r="1.55"/><circle cx="193.7" cy="319.31" r="1.55"/><circle cx="200.76" cy="339.23" r="1.55"/><circle cx="194.49" cy="329.11" r="1.55"/><circle cx="209.15" cy="343.48" r="1.55"/><circle cx="205.1" cy="344.82" r="1.55"/><circle cx="207.17" cy="338.98" r="1.55"/><circle cx="202.06" cy="338.94" r="1.55"/><circle cx="206.21" cy="335.88" r="1.55"/><circle cx="196.95" cy="322.37" r="1.55"/><circle cx="209.14" cy="341.87" r="1.55"/><circle cx="213.55" cy="345.62" r="1.55"/><circle cx="197.9" cy="341.59" r="1.55"/><circle cx="208.29" cy="338.86" r="1.55"/><circle cx="209.95" cy="341.64" r="1.55"/><circle cx="196.54" cy="332.19" r="1.55"/><circle cx="213.56" cy="345.29" r="1.55"/><circle cx="197.83" cy="337.28" r="1.55"/><circle cx="205.84" cy="345.3" r="1.55"/><circle cx="192.98" cy="340.25" r="1.55"/><circle cx="197.68" cy="339.11" r="1.55"/><circle cx="196.17" cy="325.56" r="1.55"/><circle cx="198.28" cy="344.09" r="1.55"/><circle cx="207.18" cy="339.17" r="1.55"/><circle cx="198.52" cy="342.48" r="1.55"/><circle cx="207.76" cy="342.97" r="1.55"/><circle cx="200.62" cy="340.63" r="1.55"/><circle cx="203.1" cy="336.74" r="1.55"/><circle cx="203.95" cy="332.98" r="1.55"/><circle cx="192.63" cy="323.71" r="1.55"/><circle cx="195.34" cy="334.43" r="1.55"/><circle cx="212.58" cy="344.93" r="1.55"/><circle cx="209.23" cy="343.36" r="1.55"/><circle cx="197.37" cy="323.21" r="1.55"/><circle cx="211.46" cy="342.73" r="1.55"/><circle cx="196.26" cy="335.83" r="1.55"/><circle cx="208.78" cy="344.4" r="1.55"/><circle cx="208.25" cy="339.65" r="1.55"/><circle cx="195.65" cy="319.22" r="1.55"/><circle cx="192.64" cy="315.63" r="1.55"/><circle cx="193.05" cy="341.01" r="1.55"/><circle cx="205.54" cy="336.02" r="1.55"/><circle cx="220.66" cy="343.04" r="1.55"/><circle cx="216.91" cy="344.85" r="1.55"/><circle cx="218.13" cy="345.03" r="1.55"/><circle cx="222.57" cy="343.47" r="1.55"/><circle cx="222.84" cy="343.14" r="1.55"/><circle cx="215.35" cy="345.68" r="1.55"/><circle cx="214.7" cy="345.99" r="1.55"/><circle cx="227.13" cy="345.32" r="1.55"/><circle cx="217.34" cy="345" r="1.55"/><circle cx="229.72" cy="344.49" r="1.55"/><circle cx="215.38" cy="345.64" r="1.55"/><circle cx="220.8" cy="344.87" r="1.55"/><circle cx="234.38" cy="322.49" r="1.55"/><circle cx="222.96" cy="341.05" r="1.55"/><circle cx="235.56" cy="337.81" r="1.55"/><circle cx="233.12" cy="344.96" r="1.55"/><circle cx="233.81" cy="334.42" r="1.55"/><circle cx="233.63" cy="336.77" r="1.55"/><circle cx="235.15" cy="319.78" r="1.55"/><circle cx="223.18" cy="344.72" r="1.55"/><circle cx="215.84" cy="345.72" r="1.55"/><circle cx="220.51" cy="343.11" r="1.55"/><circle cx="224.12" cy="345.02" r="1.55"/><circle cx="235.72" cy="336.22" r="1.55"/><circle cx="218.58" cy="345.64" r="1.55"/><circle cx="218.77" cy="343.52" r="1.55"/><circle cx="214.52" cy="345.99" r="1.55"/><circle cx="221.56" cy="344.47" r="1.55"/><circle cx="215.9" cy="345.77" r="1.55"/><circle cx="219.5" cy="345.58" r="1.55"/><circle cx="234.61" cy="328.98" r="1.55"/><circle cx="221.33" cy="344.95" r="1.55"/><circle cx="224.45" cy="343.72" r="1.55"/><circle cx="217.77" cy="344.51" r="1.55"/><circle cx="227.76" cy="335.52" r="1.55"/><circle cx="215.26" cy="345.88" r="1.55"/><circle cx="226.81" cy="342.55" r="1.55"/><circle cx="235.31" cy="316.11" r="1.55"/><circle cx="224.38" cy="344.74" r="1.55"/><circle cx="229.2" cy="336.33" r="1.55"/><circle cx="216.93" cy="345.5" r="1.55"/><circle cx="215.05" cy="345.74" r="1.55"/><circle cx="215.87" cy="345.63" r="1.55"/><circle cx="217.25" cy="344.97" r="1.55"/><circle cx="217.09" cy="345.51" r="1.55"/><circle cx="230.16" cy="338.76" r="1.55"/><circle cx="233.06" cy="337.94" r="1.55"/><circle cx="235.46" cy="334.49" r="1.55"/><circle cx="224.57" cy="338.69" r="1.55"/><circle cx="224.74" cy="342.28" r="1.55"/><circle cx="225.47" cy="338.09" r="1.55"/><circle cx="217.33" cy="345.98" r="1.55"/><circle cx="231.54" cy="331.7" r="1.55"/><circle cx="224.3" cy="341.71" r="1.55"/><circle cx="234.29" cy="331.21" r="1.55"/><circle cx="223.06" cy="346" r="1.55"/><circle cx="215.5" cy="345.66" r="1.55"/><circle cx="216.21" cy="345.17" r="1.55"/><circle cx="223.6" cy="343.49" r="1.55"/><circle cx="230.92" cy="334.09" r="1.55"/><circle cx="233.6" cy="324.98" r="1.55"/><circle cx="214.74" cy="345.88" r="1.55"/><circle cx="217.42" cy="345.82" r="1.55"/><circle cx="230.61" cy="331.68" r="1.55"/><circle cx="224.09" cy="343.3" r="1.55"/><circle cx="215.59" cy="345.46" r="1.55"/><circle cx="231.27" cy="328.58" r="1.55"/><circle cx="215.3" cy="345.95" r="1.55"/><circle cx="231.5" cy="330.13" r="1.55"/><circle cx="215.47" cy="345.61" r="1.55"/><circle cx="259.43" cy="292.18" r="1.55"/><circle cx="246.02" cy="342.51" r="1.55"/><circle cx="244.78" cy="299.78" r="1.55"/><circle cx="235.09" cy="325.36" r="1.55"/><circle cx="223.13" cy="344.27" r="1.55"/><circle cx="244.17" cy="318.66" r="1.55"/><circle cx="244.55" cy="330.35" r="1.55"/><circle cx="244.31" cy="305.66" r="1.55"/><circle cx="246.27" cy="303.46" r="1.55"/><circle cx="231.75" cy="335.58" r="1.55"/><circle cx="253.69" cy="304.25" r="1.55"/><circle cx="229.95" cy="340.65" r="1.55"/><circle cx="251.7" cy="301.99" r="1.55"/><circle cx="253.83" cy="286.15" r="1.55"/><circle cx="244.05" cy="318.71" r="1.55"/><circle cx="259.7" cy="337.03" r="1.55"/><circle cx="219.04" cy="345.45" r="1.55"/><circle cx="242.82" cy="339.01" r="1.55"/><circle cx="261.37" cy="310.16" r="1.55"/><circle cx="252.61" cy="323.52" r="1.55"/><circle cx="249.44" cy="324.85" r="1.55"/><circle cx="237.3" cy="316.38" r="1.55"/><circle cx="228.19" cy="335.5" r="1.55"/><circle cx="243.45" cy="313.4" r="1.55"/><circle cx="243" cy="334.81" r="1.55"/><circle cx="254.97" cy="329.41" r="1.55"/><circle cx="254.58" cy="341.73" r="1.55"/><circle cx="258.6" cy="339.87" r="1.55"/><circle cx="246.27" cy="326.96" r="1.55"/><circle cx="252.53" cy="309.82" r="1.55"/><circle cx="248.08" cy="316.55" r="1.55"/><circle cx="235.36" cy="342.08" r="1.55"/><circle cx="255.54" cy="303.07" r="1.55"/><circle cx="252" cy="331.77" r="1.55"/><circle cx="237.61" cy="333.11" r="1.55"/><circle cx="259.58" cy="318.87" r="1.55"/><circle cx="258.49" cy="281.44" r="1.55"/><circle cx="235.02" cy="333.73" r="1.55"/><circle cx="241.77" cy="329.08" r="1.55"/><circle cx="239.15" cy="331.88" r="1.55"/><circle cx="255.45" cy="323.83" r="1.55"/><circle cx="237.12" cy="314.27" r="1.55"/><circle cx="242.87" cy="336.35" r="1.55"/><circle cx="260.97" cy="287.81" r="1.55"/><circle cx="251.44" cy="311.26" r="1.55"/><circle cx="257.57" cy="283.5" r="1.55"/><circle cx="249.26" cy="327.74" r="1.55"/><circle cx="247.44" cy="305.9" r="1.55"/><circle cx="243.71" cy="339.7" r="1.55"/><circle cx="255.12" cy="293.53" r="1.55"/><circle cx="231.63" cy="345.44" r="1.55"/><circle cx="250.31" cy="335.17" r="1.55"/><circle cx="258.48" cy="295.91" r="1.55"/><circle cx="237.66" cy="328.78" r="1.55"/><circle cx="252.1" cy="313.71" r="1.55"/><circle cx="246.95" cy="300.05" r="1.55"/><circle cx="225.59" cy="343.3" r="1.55"/><circle cx="261.05" cy="335.7" r="1.55"/><circle cx="254.74" cy="316.53" r="1.55"/><circle cx="236.4" cy="323.93" r="1.55"/><circle cx="247.09" cy="321.49" r="1.55"/><circle cx="249.95" cy="291.95" r="1.55"/><circle cx="236.61" cy="324.28" r="1.55"/><circle cx="241.36" cy="305.05" r="1.55"/><circle cx="225.35" cy="340.09" r="1.55"/><circle cx="257.01" cy="319.73" r="1.55"/><circle cx="259.14" cy="323.42" r="1.55"/><circle cx="244.2" cy="333.26" r="1.55"/><circle cx="263.01" cy="309.25" r="1.55"/><circle cx="244.5" cy="302.71" r="1.55"/><circle cx="243.58" cy="335.98" r="1.55"/><circle cx="252.34" cy="339.01" r="1.55"/><circle cx="243.8" cy="306.76" r="1.55"/><circle cx="253.8" cy="291.3" r="1.55"/><circle cx="238.43" cy="313.63" r="1.55"/><circle cx="228.44" cy="333.45" r="1.55"/><circle cx="252.23" cy="336.92" r="1.55"/><circle cx="220.89" cy="345.27" r="1.55"/><circle cx="252.49" cy="288.73" r="1.55"/><circle cx="261.95" cy="312.71" r="1.55"/><circle cx="247.29" cy="295.66" r="1.55"/><circle cx="247.07" cy="339.56" r="1.55"/><circle cx="254.88" cy="284.1" r="1.55"/><circle cx="243.01" cy="342.51" r="1.55"/><circle cx="257.95" cy="333.66" r="1.55"/><circle cx="238.82" cy="325.6" r="1.55"/><circle cx="259.84" cy="327.03" r="1.55"/><circle cx="248.88" cy="300.39" r="1.55"/><circle cx="252.31" cy="313.76" r="1.55"/><circle cx="258.05" cy="302.94" r="1.55"/><circle cx="261.71" cy="318.05" r="1.55"/><circle cx="261.11" cy="314.21" r="1.55"/><circle cx="244.36" cy="325.74" r="1.55"/><circle cx="255.32" cy="288.61" r="1.55"/><circle cx="261.89" cy="340.27" r="1.55"/><circle cx="259.75" cy="303.08" r="1.55"/><circle cx="259.09" cy="282.56" r="1.55"/><circle cx="254.8" cy="294.6" r="1.55"/><circle cx="240.79" cy="326.61" r="1.55"/><circle cx="260.95" cy="291.54" r="1.55"/><circle cx="241.61" cy="306.33" r="1.55"/><circle cx="260.32" cy="304.5" r="1.55"/><circle cx="253.87" cy="285.79" r="1.55"/><circle cx="255.01" cy="287.33" r="1.55"/><circle cx="257.01" cy="324.35" r="1.55"/><circle cx="254.12" cy="334.77" r="1.55"/><circle cx="255.13" cy="332.8" r="1.55"/><circle cx="237.7" cy="345.07" r="1.55"/><circle cx="228.69" cy="343.88" r="1.55"/><circle cx="251.59" cy="338.01" r="1.55"/><circle cx="259.76" cy="282.32" r="1.55"/><circle cx="247.66" cy="342.77" r="1.55"/><circle cx="234.95" cy="336.04" r="1.55"/><circle cx="228.04" cy="335.09" r="1.55"/><circle cx="255.87" cy="295.64" r="1.55"/><circle cx="251.72" cy="324.13" r="1.55"/><circle cx="258.2" cy="301.51" r="1.55"/><circle cx="261.25" cy="321.99" r="1.55"/><circle cx="252.56" cy="287.65" r="1.55"/><circle cx="251.49" cy="341.41" r="1.55"/><circle cx="255.1" cy="334.75" r="1.55"/><circle cx="262.54" cy="320.33" r="1.55"/><circle cx="243.03" cy="300.02" r="1.55"/><circle cx="233.08" cy="321.66" r="1.55"/><circle cx="256.84" cy="326.98" r="1.55"/><circle cx="255.98" cy="315.2" r="1.55"/><circle cx="239.88" cy="324.11" r="1.55"/><circle cx="241.83" cy="315.58" r="1.55"/><circle cx="226.06" cy="338.29" r="1.55"/><circle cx="260.89" cy="297.94" r="1.55"/><circle cx="253.17" cy="283.8" r="1.55"/><circle cx="238.04" cy="319.65" r="1.55"/><circle cx="250.43" cy="317.81" r="1.55"/><circle cx="262.26" cy="330.24" r="1.55"/><circle cx="243.47" cy="331.23" r="1.55"/><circle cx="235.87" cy="328.46" r="1.55"/><circle cx="244.09" cy="323.36" r="1.55"/><circle cx="247.57" cy="343.95" r="1.55"/><circle cx="239.56" cy="338.42" r="1.55"/><circle cx="256.59" cy="278.41" r="1.55"/><circle cx="262.4" cy="321.36" r="1.55"/><circle cx="240.92" cy="310.06" r="1.55"/><circle cx="261.28" cy="318.73" r="1.55"/><circle cx="246.25" cy="311.15" r="1.55"/><circle cx="235.18" cy="318.9" r="1.55"/><circle cx="253.92" cy="294.13" r="1.55"/><circle cx="262.37" cy="295.31" r="1.55"/><circle cx="249.43" cy="307.7" r="1.55"/><circle cx="248" cy="295.98" r="1.55"/><circle cx="257.14" cy="307.82" r="1.55"/><circle cx="241.97" cy="342.6" r="1.55"/><circle cx="255.84" cy="279.35" r="1.55"/><circle cx="238.56" cy="343.87" r="1.55"/><circle cx="246.26" cy="339.9" r="1.55"/><circle cx="247.49" cy="294.32" r="1.55"/><circle cx="232.74" cy="340.84" r="1.55"/><circle cx="238.59" cy="317.95" r="1.55"/><circle cx="248.25" cy="317.85" r="1.55"/><circle cx="236.81" cy="312.66" r="1.55"/><circle cx="241.08" cy="330.16" r="1.55"/><circle cx="247.79" cy="308.26" r="1.55"/><circle cx="240.87" cy="325.79" r="1.55"/><circle cx="255.57" cy="331.05" r="1.55"/><circle cx="260.73" cy="307.46" r="1.55"/><circle cx="254.47" cy="330.26" r="1.55"/><circle cx="238.1" cy="312.81" r="1.55"/><circle cx="235.61" cy="331.29" r="1.55"/><circle cx="238.61" cy="342.47" r="1.55"/><circle cx="238.02" cy="328.24" r="1.55"/><circle cx="250.46" cy="323.07" r="1.55"/><circle cx="252.66" cy="330.17" r="1.55"/><circle cx="237.05" cy="321.25" r="1.55"/><circle cx="242.13" cy="335.26" r="1.55"/><circle cx="240.54" cy="337.87" r="1.55"/><circle cx="262.81" cy="324.92" r="1.55"/><circle cx="241.42" cy="319.29" r="1.55"/><circle cx="235.53" cy="325.38" r="1.55"/><circle cx="257.9" cy="299.68" r="1.55"/><circle cx="251.54" cy="330.2" r="1.55"/><circle cx="254.14" cy="308.51" r="1.55"/><circle cx="236.39" cy="322.3" r="1.55"/><circle cx="257.64" cy="282.65" r="1.55"/><circle cx="229.12" cy="334.01" r="1.55"/><circle cx="255.35" cy="290.12" r="1.55"/><circle cx="239.22" cy="311.71" r="1.55"/><circle cx="254.54" cy="297.67" r="1.55"/><circle cx="242.96" cy="317.86" r="1.55"/><circle cx="249.44" cy="327.13" r="1.55"/><circle cx="242.35" cy="337.4" r="1.55"/><circle cx="261.31" cy="324.18" r="1.55"/><circle cx="251.85" cy="320.72" r="1.55"/><circle cx="256.38" cy="309.99" r="1.55"/><circle cx="250.64" cy="319.37" r="1.55"/><circle cx="246.76" cy="297.46" r="1.55"/><circle cx="258.55" cy="294.6" r="1.55"/><circle cx="261.15" cy="324.45" r="1.55"/><circle cx="253.49" cy="302.06" r="1.55"/><circle cx="249.4" cy="337.81" r="1.55"/><circle cx="249.07" cy="335.18" r="1.55"/><circle cx="259.27" cy="318.32" r="1.55"/><circle cx="230.57" cy="329.28" r="1.55"/><circle cx="244.74" cy="308.53" r="1.55"/><circle cx="261.42" cy="314.38" r="1.55"/><circle cx="247.33" cy="341.96" r="1.55"/><circle cx="248.37" cy="323.87" r="1.55"/><circle cx="250.18" cy="311.36" r="1.55"/><circle cx="229.06" cy="331.38" r="1.55"/><circle cx="254.72" cy="304.49" r="1.55"/><circle cx="255.02" cy="314.7" r="1.55"/><circle cx="260.34" cy="315.02" r="1.55"/><circle cx="250.41" cy="318.89" r="1.55"/><circle cx="261.63" cy="341.99" r="1.55"/><circle cx="240.93" cy="324.35" r="1.55"/><circle cx="246.48" cy="301.35" r="1.55"/><circle cx="246.59" cy="307.1" r="1.55"/><circle cx="263.23" cy="319.46" r="1.55"/><circle cx="250.47" cy="304.36" r="1.55"/><circle cx="233.89" cy="329.33" r="1.55"/><circle cx="250.4" cy="336.56" r="1.55"/><circle cx="239.34" cy="322.86" r="1.55"/><circle cx="260.05" cy="319.84" r="1.55"/><circle cx="239.77" cy="334.48" r="1.55"/><circle cx="261.14" cy="309.28" r="1.55"/><circle cx="247.15" cy="295.11" r="1.55"/><circle cx="261.13" cy="341.06" r="1.55"/><circle cx="246.31" cy="309.68" r="1.55"/><circle cx="250.37" cy="328.86" r="1.55"/><circle cx="253.59" cy="320.29" r="1.55"/><circle cx="245.69" cy="327.84" r="1.55"/><circle cx="255.79" cy="329.05" r="1.55"/><circle cx="250.47" cy="329.83" r="1.55"/><circle cx="227.63" cy="343.98" r="1.55"/><circle cx="259.02" cy="316.49" r="1.55"/><circle cx="251.71" cy="312.19" r="1.55"/><circle cx="262.36" cy="321.33" r="1.55"/><circle cx="253.12" cy="317.96" r="1.55"/><circle cx="260.61" cy="337.72" r="1.55"/><circle cx="243.96" cy="315.96" r="1.55"/><circle cx="249.98" cy="329.64" r="1.55"/><circle cx="253.08" cy="329.26" r="1.55"/><circle cx="255.48" cy="297.12" r="1.55"/><circle cx="254.87" cy="308.68" r="1.55"/><circle cx="241.97" cy="313.56" r="1.55"/><circle cx="247.53" cy="295.57" r="1.55"/><circle cx="251.04" cy="291.88" r="1.55"/><circle cx="243.62" cy="314.1" r="1.55"/><circle cx="253.33" cy="320.6" r="1.55"/><circle cx="254.02" cy="314.15" r="1.55"/><circle cx="257.22" cy="298.27" r="1.55"/><circle cx="236.7" cy="343.85" r="1.55"/><circle cx="259.45" cy="301.01" r="1.55"/><circle cx="253.15" cy="342.06" r="1.55"/><circle cx="259.38" cy="330.85" r="1.55"/><circle cx="239.34" cy="331.21" r="1.55"/><circle cx="259.72" cy="317.77" r="1.55"/><circle cx="254.62" cy="283.16" r="1.55"/><circle cx="235.25" cy="320.23" r="1.55"/><circle cx="239.41" cy="314.58" r="1.55"/><circle cx="236.49" cy="320.7" r="1.55"/><circle cx="261.62" cy="290.7" r="1.55"/><circle cx="226.23" cy="337.06" r="1.55"/><circle cx="254" cy="336.15" r="1.55"/><circle cx="245.18" cy="315.61" r="1.55"/><circle cx="236.47" cy="340.85" r="1.55"/><circle cx="257.91" cy="311.97" r="1.55"/><circle cx="253.78" cy="330.89" r="1.55"/><circle cx="231.75" cy="328.34" r="1.55"/><circle cx="249.69" cy="295.12" r="1.55"/><circle cx="238.88" cy="339.8" r="1.55"/><circle cx="250.06" cy="325.1" r="1.55"/><circle cx="250.8" cy="320.99" r="1.55"/><circle cx="246.88" cy="322.55" r="1.55"/><circle cx="240.67" cy="310.21" r="1.55"/><circle cx="239.05" cy="318.37" r="1.55"/><circle cx="249.49" cy="301.27" r="1.55"/><circle cx="244.84" cy="316.73" r="1.55"/><circle cx="247.82" cy="328.8" r="1.55"/><circle cx="262.2" cy="293.39" r="1.55"/><circle cx="244.69" cy="321.96" r="1.55"/><circle cx="239.33" cy="345.56" r="1.55"/><circle cx="257.23" cy="321.69" r="1.55"/><circle cx="253.96" cy="343.7" r="1.55"/><circle cx="218" cy="345.64" r="1.55"/><circle cx="259.78" cy="295" r="1.55"/><circle cx="238.29" cy="330.26" r="1.55"/><circle cx="258.27" cy="338.25" r="1.55"/><circle cx="218.96" cy="345" r="1.55"/><circle cx="251.4" cy="302.68" r="1.55"/><circle cx="229.51" cy="345.62" r="1.55"/><circle cx="219.09" cy="345" r="1.55"/><circle cx="250.74" cy="303.02" r="1.55"/><circle cx="219.44" cy="343.6" r="1.55"/><circle cx="227.19" cy="336.31" r="1.55"/><circle cx="218.75" cy="345.22" r="1.55"/><circle cx="254.42" cy="342.48" r="1.55"/><circle cx="232.18" cy="335.68" r="1.55"/><circle cx="254.23" cy="329.29" r="1.55"/><circle cx="250.58" cy="306.88" r="1.55"/><circle cx="238.6" cy="310.28" r="1.55"/><circle cx="245.87" cy="342.77" r="1.55"/><circle cx="221.8" cy="345.08" r="1.55"/><circle cx="242.13" cy="330.27" r="1.55"/><circle cx="217.04" cy="345.6" r="1.55"/><circle cx="218.97" cy="343.63" r="1.55"/><circle cx="229.91" cy="332.05" r="1.55"/><circle cx="218.13" cy="345.26" r="1.55"/><circle cx="261.23" cy="291.47" r="1.55"/><circle cx="244.68" cy="315.36" r="1.55"/><circle cx="256.01" cy="337.97" r="1.55"/><circle cx="261.33" cy="292.47" r="1.55"/><circle cx="235.94" cy="320.83" r="1.55"/><circle cx="248.73" cy="310.41" r="1.55"/><circle cx="214.88" cy="345.84" r="1.55"/><circle cx="239.99" cy="305.8" r="1.55"/><circle cx="252.34" cy="321.04" r="1.55"/><circle cx="220.8" cy="344.24" r="1.55"/><circle cx="219.07" cy="344.78" r="1.55"/><circle cx="246.54" cy="341.36" r="1.55"/><circle cx="230.93" cy="341.05" r="1.55"/><circle cx="232.5" cy="327.72" r="1.55"/><circle cx="223.92" cy="342.26" r="1.55"/><circle cx="254.37" cy="309.68" r="1.55"/><circle cx="243" cy="332.87" r="1.55"/><circle cx="218.63" cy="344.69" r="1.55"/><circle cx="226.89" cy="337.36" r="1.55"/><circle cx="242.74" cy="301.8" r="1.55"/><circle cx="226.17" cy="344.45" r="1.55"/><circle cx="248.14" cy="338.87" r="1.55"/><circle cx="221.01" cy="344.09" r="1.55"/><circle cx="255.37" cy="332.89" r="1.55"/><circle cx="256.64" cy="300.28" r="1.55"/><circle cx="235.5" cy="314.76" r="1.55"/><circle cx="231.67" cy="329.78" r="1.55"/><circle cx="230.11" cy="331.79" r="1.55"/><circle cx="256.06" cy="292.88" r="1.55"/><circle cx="226.56" cy="345.95" r="1.55"/><circle cx="249.5" cy="343.27" r="1.55"/><circle cx="261.8" cy="322.22" r="1.55"/><circle cx="225.63" cy="341.59" r="1.55"/><circle cx="256.78" cy="343.3" r="1.55"/><circle cx="254.53" cy="318.66" r="1.55"/><circle cx="216.37" cy="345.15" r="1.55"/><circle cx="261.47" cy="323.25" r="1.55"/><circle cx="215.63" cy="345.96" r="1.55"/><circle cx="229.1" cy="338.22" r="1.55"/><circle cx="240.29" cy="342.35" r="1.55"/><circle cx="255.42" cy="290.1" r="1.55"/><circle cx="231.61" cy="332.17" r="1.55"/><circle cx="216.81" cy="345.96" r="1.55"/><circle cx="254.56" cy="310.02" r="1.55"/><circle cx="217.52" cy="344.78" r="1.55"/><circle cx="219.13" cy="344.45" r="1.55"/><circle cx="242.83" cy="325.27" r="1.55"/><circle cx="250.99" cy="309.93" r="1.55"/><circle cx="263.07" cy="303.4" r="1.55"/><circle cx="259.34" cy="314.45" r="1.55"/><circle cx="222.98" cy="341.12" r="1.55"/><circle cx="257.74" cy="340.59" r="1.55"/><circle cx="231.93" cy="336.74" r="1.55"/><circle cx="233.48" cy="327.91" r="1.55"/><circle cx="254.48" cy="283.46" r="1.55"/><circle cx="242.43" cy="332.22" r="1.55"/><circle cx="225.16" cy="344.23" r="1.55"/><circle cx="249.44" cy="308.12" r="1.55"/><circle cx="235.97" cy="336.99" r="1.55"/><circle cx="249.16" cy="315.59" r="1.55"/><circle cx="261.19" cy="295.29" r="1.55"/><circle cx="234.5" cy="325.38" r="1.55"/><circle cx="238.92" cy="342.43" r="1.55"/><circle cx="256.29" cy="341.89" r="1.55"/><circle cx="250.45" cy="310.75" r="1.55"/><circle cx="238.47" cy="311.48" r="1.55"/><circle cx="258.68" cy="284.36" r="1.55"/><circle cx="240.81" cy="316.56" r="1.55"/><circle cx="260.96" cy="292.37" r="1.55"/><circle cx="216.9" cy="345.57" r="1.55"/><circle cx="244.49" cy="317.62" r="1.55"/><circle cx="258.91" cy="283.05" r="1.55"/><circle cx="225.83" cy="340.11" r="1.55"/><circle cx="235.67" cy="323.59" r="1.55"/><circle cx="251.71" cy="327.17" r="1.55"/><circle cx="231.33" cy="340.68" r="1.55"/><circle cx="231.89" cy="331.49" r="1.55"/><circle cx="241.97" cy="328.16" r="1.55"/><circle cx="237.23" cy="341.24" r="1.55"/><circle cx="227.81" cy="336" r="1.55"/><circle cx="244.93" cy="301.48" r="1.55"/><circle cx="245.12" cy="339.56" r="1.55"/><circle cx="252.3" cy="334.88" r="1.55"/><circle cx="227.66" cy="338.38" r="1.55"/><circle cx="262.22" cy="322.57" r="1.55"/><circle cx="231.28" cy="328.21" r="1.55"/><circle cx="230.64" cy="339.7" r="1.55"/><circle cx="245.36" cy="340.9" r="1.55"/><circle cx="214.53" cy="345.99" r="1.55"/><circle cx="259.27" cy="309.55" r="1.55"/><circle cx="253.66" cy="331.16" r="1.55"/><circle cx="228.86" cy="342.03" r="1.55"/><circle cx="243.87" cy="315.65" r="1.55"/><circle cx="262.74" cy="310.24" r="1.55"/><circle cx="228.15" cy="341.96" r="1.55"/><circle cx="238.2" cy="331.73" r="1.55"/><circle cx="233.6" cy="325.35" r="1.55"/><circle cx="248.52" cy="296.58" r="1.55"/><circle cx="220.24" cy="345.26" r="1.55"/><circle cx="247.27" cy="331.82" r="1.55"/><circle cx="224.62" cy="342.43" r="1.55"/><circle cx="216.08" cy="345.2" r="1.55"/><circle cx="220.42" cy="343.26" r="1.55"/><circle cx="218.3" cy="344.08" r="1.55"/><circle cx="261.05" cy="291.35" r="1.55"/><circle cx="224.38" cy="345.13" r="1.55"/><circle cx="215.26" cy="345.98" r="1.55"/><circle cx="259.85" cy="333.32" r="1.55"/><circle cx="230.06" cy="344.28" r="1.55"/><circle cx="262.06" cy="329.57" r="1.55"/><circle cx="253.05" cy="317.47" r="1.55"/><circle cx="260.06" cy="316.59" r="1.55"/><circle cx="215.75" cy="345.79" r="1.55"/><circle cx="238.14" cy="343.52" r="1.55"/><circle cx="251.55" cy="336.49" r="1.55"/><circle cx="214.83" cy="345.99" r="1.55"/><circle cx="235.66" cy="324.37" r="1.55"/><circle cx="229.39" cy="333.66" r="1.55"/><circle cx="246.73" cy="340.47" r="1.55"/><circle cx="220.08" cy="343.65" r="1.55"/><circle cx="234.16" cy="345.74" r="1.55"/><circle cx="257.26" cy="312.75" r="1.55"/><circle cx="250.74" cy="325.92" r="1.55"/><circle cx="256.32" cy="332.54" r="1.55"/><circle cx="222.21" cy="345.13" r="1.55"/><circle cx="223.79" cy="345.03" r="1.55"/><circle cx="251.59" cy="323.92" r="1.55"/><circle cx="245.03" cy="305.45" r="1.55"/><circle cx="258.99" cy="339.63" r="1.55"/><circle cx="220.42" cy="344.95" r="1.55"/><circle cx="241.44" cy="319.51" r="1.55"/><circle cx="225.92" cy="344.63" r="1.55"/><circle cx="230.19" cy="344.07" r="1.55"/><circle cx="215.43" cy="345.85" r="1.55"/><circle cx="261.04" cy="307.85" r="1.55"/><circle cx="217.7" cy="345.71" r="1.55"/><circle cx="238.69" cy="313.22" r="1.55"/><circle cx="225.77" cy="344.39" r="1.55"/><circle cx="215.64" cy="345.6" r="1.55"/><circle cx="255.98" cy="334.36" r="1.55"/><circle cx="226.25" cy="343.78" r="1.55"/><circle cx="246.82" cy="298.84" r="1.55"/><circle cx="237.52" cy="329.97" r="1.55"/><circle cx="248.34" cy="313.37" r="1.55"/><circle cx="239.96" cy="311.66" r="1.55"/><circle cx="221.26" cy="343.06" r="1.55"/><circle cx="261.11" cy="340.67" r="1.55"/><circle cx="248.75" cy="311.09" r="1.55"/><circle cx="251.01" cy="315.38" r="1.55"/><circle cx="245.68" cy="330.01" r="1.55"/><circle cx="245.36" cy="317.94" r="1.55"/><circle cx="247.83" cy="333.15" r="1.55"/><circle cx="224.61" cy="345.71" r="1.55"/><circle cx="238.53" cy="324.69" r="1.55"/><circle cx="105.4" cy="84.6" r="1.55"/><circle cx="103.9" cy="118" r="1.55"/><circle cx="112.3" cy="140.6" r="1.55"/><circle cx="66.9" cy="181.3" r="1.55"/><circle cx="48.6" cy="250" r="1.55"/><circle cx="132.7" cy="217.1" r="1.55"/><circle cx="122.8" cy="226.7" r="1.55"/><circle cx="165.3" cy="230.2" r="1.55"/><circle cx="156.4" cy="234.1" r="1.55"/><circle cx="146.9" cy="240.9" r="1.55"/><circle cx="136.8" cy="245" r="1.55"/><circle cx="101.1" cy="249.2" r="1.55"/><circle cx="89.7" cy="259.7" r="1.55"/><circle cx="144.5" cy="255.2" r="1.55"/><circle cx="127.7" cy="261.2" r="1.55"/><circle cx="109.3" cy="270.7" r="1.55"/><circle cx="84.8" cy="276" r="1.55"/><circle cx="118.2" cy="291.3" r="1.55"/><circle cx="133.7" cy="276.9" r="1.55"/><circle cx="131.2" cy="281.6" r="1.55"/><circle cx="167" cy="264.5" r="1.55"/><circle cx="129" cy="301" r="1.55"/><circle cx="132.5" cy="302.7" r="1.55"/><circle cx="126.9" cy="307.9" r="1.55"/><circle cx="126.7" cy="312.8" r="1.55"/><circle cx="133.3" cy="315.7" r="1.55"/><circle cx="138.9" cy="307.9" r="1.55"/><circle cx="118.8" cy="316.1" r="1.55"/><circle cx="120.3" cy="317.4" r="1.55"/><circle cx="130.4" cy="321.9" r="1.55"/><circle cx="130.2" cy="324.8" r="1.55"/><circle cx="131.4" cy="330.6" r="1.55"/><circle cx="132.7" cy="334.3" r="1.55"/><circle cx="139.9" cy="328.1" r="1.55"/><circle cx="142.2" cy="318.2" r="1.55"/><circle cx="144.9" cy="312.6" r="1.55"/><circle cx="144.7" cy="300.6" r="1.55"/><circle cx="150.7" cy="305.8" r="1.55"/><circle cx="145.9" cy="329.8" r="1.55"/><circle cx="150.9" cy="336.4" r="1.55"/><circle cx="154" cy="336.4" r="1.55"/><circle cx="146.3" cy="317.4" r="1.55"/><circle cx="153.3" cy="283.5" r="1.55"/><circle cx="153.6" cy="288.8" r="1.55"/><circle cx="158" cy="286.8" r="1.55"/><circle cx="156.4" cy="273.3" r="1.55"/><circle cx="156.9" cy="268.2" r="1.55"/><circle cx="163.9" cy="283.7" r="1.55"/><circle cx="164.7" cy="274.8" r="1.55"/><circle cx="171.5" cy="276.9" r="1.55"/><circle cx="171.7" cy="251.7" r="1.55"/><circle cx="253.2" cy="259.2" r="1.55"/><circle cx="266.1" cy="257.6" r="1.55"/><circle cx="254.5" cy="266.7" r="1.55"/><circle cx="257.3" cy="268.8" r="1.55"/><circle cx="262" cy="266.8" r="1.55"/><circle cx="263.2" cy="266.8" r="1.55"/><circle cx="257.9" cy="275.8" r="1.55"/><circle cx="267.4" cy="277.9" r="1.55"/><circle cx="270.5" cy="280.8" r="1.55"/><circle cx="264.5" cy="287.6" r="1.55"/><circle cx="271.4" cy="293.6" r="1.55"/><circle cx="277.9" cy="306.8" r="1.55"/><circle cx="277" cy="323.6" r="1.55"/><circle cx="279.8" cy="328.9" r="1.55"/><circle cx="301.5" cy="331.2" r="1.55"/><circle cx="271.4" cy="332.4" r="1.55"/><circle cx="278.8" cy="337.3" r="1.55"/><circle cx="273" cy="336.7" r="1.55"/><circle cx="272.9" cy="340" r="1.55"/><circle cx="269" cy="339" r="1.55"/></g>
<g fill="#c81818" stroke="#3a0c0c" stroke-width="0.7"><circle cx="86.5" cy="42.2" r="1.55"/><circle cx="95.5" cy="42.2" r="1.55"/><circle cx="138.9" cy="45.4" r="1.55"/><circle cx="173.6" cy="247.9" r="1.55"/><circle cx="156" cy="252.6" r="1.55"/><circle cx="175.6" cy="263.7" r="1.55"/><circle cx="176.3" cy="302.9" r="1.55"/><circle cx="181.2" cy="301.8" r="1.55"/><circle cx="182.3" cy="319.6" r="1.55"/><circle cx="191.7" cy="327.1" r="1.55"/><circle cx="189.1" cy="331" r="1.55"/><circle cx="173" cy="331.9" r="1.55"/><circle cx="174.1" cy="335.9" r="1.55"/><circle cx="176.3" cy="333.7" r="1.55"/><circle cx="182.9" cy="336.7" r="1.55"/><circle cx="176.3" cy="341.5" r="1.55"/><circle cx="180.7" cy="339.3" r="1.55"/><circle cx="193.9" cy="340.4" r="1.55"/><circle cx="200.7" cy="339.3" r="1.55"/><circle cx="199.7" cy="336.2" r="1.55"/><circle cx="203.6" cy="342.2" r="1.55"/><circle cx="206.5" cy="343.3" r="1.55"/><circle cx="208.5" cy="345" r="1.55"/><circle cx="210.4" cy="345" r="1.55"/><circle cx="214.2" cy="345.9" r="1.55"/><circle cx="217.1" cy="345.4" r="1.55"/><circle cx="220" cy="343.7" r="1.55"/><circle cx="222" cy="341.5" r="1.55"/><circle cx="224" cy="339.3" r="1.55"/><circle cx="226" cy="342" r="1.55"/><circle cx="229.4" cy="338.1" r="1.55"/><circle cx="230.5" cy="335.5" r="1.55"/><circle cx="231.5" cy="341.5" r="1.55"/><circle cx="232.7" cy="343.7" r="1.55"/><circle cx="230.5" cy="327.1" r="1.55"/><circle cx="237.4" cy="315.5" r="1.55"/><circle cx="243.6" cy="311.7" r="1.55"/><circle cx="249" cy="319.9" r="1.55"/><circle cx="247.3" cy="298.9" r="1.55"/><circle cx="255.3" cy="286.3" r="1.55"/><circle cx="242.3" cy="334.8" r="1.55"/><circle cx="134.4" cy="310.6" r="1.55"/><circle cx="145" cy="325.4" r="1.55"/><circle cx="121.1" cy="309.7" r="1.55"/></g>
<rect x="36" y="27" width="278" height="336.5" fill="none" stroke="#959595" stroke-width="1.05"/>
<line x1="33.4" y1="346" x2="35.5" y2="346" stroke="#444" stroke-width="0.9" />
<text x="32" y="348.65" font-size="7.1" fill="#4d4d4d" text-anchor="end">0</text>
<line x1="33.4" y1="322.92" x2="35.5" y2="322.92" stroke="#444" stroke-width="0.9" />
<text x="32" y="325.57" font-size="7.1" fill="#4d4d4d" text-anchor="end">20</text>
<line x1="33.4" y1="299.83" x2="35.5" y2="299.83" stroke="#444" stroke-width="0.9" />
<text x="32" y="302.48" font-size="7.1" fill="#4d4d4d" text-anchor="end">40</text>
<line x1="33.4" y1="276.75" x2="35.5" y2="276.75" stroke="#444" stroke-width="0.9" />
<text x="32" y="279.4" font-size="7.1" fill="#4d4d4d" text-anchor="end">60</text>
<line x1="33.4" y1="253.66" x2="35.5" y2="253.66" stroke="#444" stroke-width="0.9" />
<text x="32" y="256.31" font-size="7.1" fill="#4d4d4d" text-anchor="end">80</text>
<line x1="33.4" y1="230.58" x2="35.5" y2="230.58" stroke="#444" stroke-width="0.9" />
<text x="32" y="233.23" font-size="7.1" fill="#4d4d4d" text-anchor="end">100</text>
<line x1="33.4" y1="207.5" x2="35.5" y2="207.5" stroke="#444" stroke-width="0.9" />
<text x="32" y="210.15" font-size="7.1" fill="#4d4d4d" text-anchor="end">120</text>
<line x1="33.4" y1="184.41" x2="35.5" y2="184.41" stroke="#444" stroke-width="0.9" />
<text x="32" y="187.06" font-size="7.1" fill="#4d4d4d" text-anchor="end">140</text>
<line x1="33.4" y1="161.33" x2="35.5" y2="161.33" stroke="#444" stroke-width="0.9" />
<text x="32" y="163.98" font-size="7.1" fill="#4d4d4d" text-anchor="end">160</text>
<line x1="33.4" y1="138.24" x2="35.5" y2="138.24" stroke="#444" stroke-width="0.9" />
<text x="32" y="140.89" font-size="7.1" fill="#4d4d4d" text-anchor="end">180</text>
<line x1="33.4" y1="115.16" x2="35.5" y2="115.16" stroke="#444" stroke-width="0.9" />
<text x="32" y="117.81" font-size="7.1" fill="#4d4d4d" text-anchor="end">200</text>
<line x1="33.4" y1="92.08" x2="35.5" y2="92.08" stroke="#444" stroke-width="0.9" />
<text x="32" y="94.73" font-size="7.1" fill="#4d4d4d" text-anchor="end">220</text>
<line x1="33.4" y1="68.99" x2="35.5" y2="68.99" stroke="#444" stroke-width="0.9" />
<text x="32" y="71.64" font-size="7.1" fill="#4d4d4d" text-anchor="end">240</text>
<line x1="33.4" y1="45.91" x2="35.5" y2="45.91" stroke="#444" stroke-width="0.9" />
<text x="32" y="48.56" font-size="7.1" fill="#4d4d4d" text-anchor="end">260</text>
<line x1="77.7" y1="364" x2="77.7" y2="366.2" stroke="#444" stroke-width="0.9" />
<text x="77.7" y="372.5" font-size="7.1" fill="#4d4d4d" text-anchor="middle">−6</text>
<line x1="123.3" y1="364" x2="123.3" y2="366.2" stroke="#444" stroke-width="0.9" />
<text x="123.3" y="372.5" font-size="7.1" fill="#4d4d4d" text-anchor="middle">−4</text>
<line x1="168.9" y1="364" x2="168.9" y2="366.2" stroke="#444" stroke-width="0.9" />
<text x="168.9" y="372.5" font-size="7.1" fill="#4d4d4d" text-anchor="middle">−2</text>
<line x1="214.5" y1="364" x2="214.5" y2="366.2" stroke="#444" stroke-width="0.9" />
<text x="214.5" y="372.5" font-size="7.1" fill="#4d4d4d" text-anchor="middle">0</text>
<line x1="260.1" y1="364" x2="260.1" y2="366.2" stroke="#444" stroke-width="0.9" />
<text x="260.1" y="372.5" font-size="7.1" fill="#4d4d4d" text-anchor="middle">2</text>
<line x1="305.7" y1="364" x2="305.7" y2="366.2" stroke="#444" stroke-width="0.9" />
<text x="305.7" y="372.5" font-size="7.1" fill="#4d4d4d" text-anchor="middle">4</text>
<rect x="385.5" y="26.5" width="282" height="337" fill="#fff"/>
<line x1="449.01" y1="26.5" x2="449.01" y2="363.5" stroke="#efefef" stroke-width="0.7" />
<line x1="523.67" y1="26.5" x2="523.67" y2="363.5" stroke="#efefef" stroke-width="0.7" />
<line x1="598.33" y1="26.5" x2="598.33" y2="363.5" stroke="#efefef" stroke-width="0.7" />
<line x1="385.5" y1="291.25" x2="667.5" y2="291.25" stroke="#efefef" stroke-width="0.7" />
<line x1="385.5" y1="195.75" x2="667.5" y2="195.75" stroke="#efefef" stroke-width="0.7" />
<line x1="385.5" y1="100.25" x2="667.5" y2="100.25" stroke="#efefef" stroke-width="0.7" />
<line x1="411.68" y1="26.5" x2="411.68" y2="363.5" stroke="#e3e3e3" stroke-width="0.95" />
<line x1="486.34" y1="26.5" x2="486.34" y2="363.5" stroke="#e3e3e3" stroke-width="0.95" />
<line x1="561" y1="26.5" x2="561" y2="363.5" stroke="#e3e3e3" stroke-width="0.95" />
<line x1="635.66" y1="26.5" x2="635.66" y2="363.5" stroke="#e3e3e3" stroke-width="0.95" />
<line x1="385.5" y1="339" x2="667.5" y2="339" stroke="#e3e3e3" stroke-width="0.95" />
<line x1="385.5" y1="243.5" x2="667.5" y2="243.5" stroke="#e3e3e3" stroke-width="0.95" />
<line x1="385.5" y1="148" x2="667.5" y2="148" stroke="#e3e3e3" stroke-width="0.95" />
<line x1="385.5" y1="52.5" x2="667.5" y2="52.5" stroke="#e3e3e3" stroke-width="0.95" />
<line x1="486.34" y1="26.5" x2="486.34" y2="363.5" stroke="#b0b0b0" stroke-width="0.8" stroke-dasharray="3.5,2.5"/>
<line x1="385.5" y1="348.55" x2="667.5" y2="348.55" stroke="#b0b0b0" stroke-width="0.8" stroke-dasharray="3.5,2.5"/>
<line x1="635.66" y1="26.5" x2="635.66" y2="363.5" stroke="#b0b0b0" stroke-width="0.8" stroke-dasharray="3.5,2.5"/>
<line x1="385.5" y1="329.45" x2="667.5" y2="329.45" stroke="#b0b0b0" stroke-width="0.8" stroke-dasharray="3.5,2.5"/>
<line x1="561" y1="26.5" x2="561" y2="363.5" stroke="#3a3a3a" stroke-width="1" />
<line x1="385.5" y1="339.5" x2="667.5" y2="339.5" stroke="#3c3c3c" stroke-width="1.25" />
<g fill="#c6c6c6" stroke="#333333" stroke-width="0.7"><circle cx="523.13" cy="304.03" r="1.55"/><circle cx="535.01" cy="312.63" r="1.55"/><circle cx="508.91" cy="301.63" r="1.55"/><circle cx="511.93" cy="306.93" r="1.55"/><circle cx="537.32" cy="313.87" r="1.55"/><circle cx="513.08" cy="302.71" r="1.55"/><circle cx="508.34" cy="306.24" r="1.55"/><circle cx="530.38" cy="309.99" r="1.55"/><circle cx="549.49" cy="325.96" r="1.55"/><circle cx="543.94" cy="321.77" r="1.55"/><circle cx="537.47" cy="316.25" r="1.55"/><circle cx="514.41" cy="302.68" r="1.55"/><circle cx="512.24" cy="307.9" r="1.55"/><circle cx="514.87" cy="307.28" r="1.55"/><circle cx="553.97" cy="329.91" r="1.55"/><circle cx="508.49" cy="300.69" r="1.55"/><circle cx="516.69" cy="304.49" r="1.55"/><circle cx="525.39" cy="302.91" r="1.55"/><circle cx="509.81" cy="302.09" r="1.55"/><circle cx="524.19" cy="308.59" r="1.55"/><circle cx="523.46" cy="306.92" r="1.55"/><circle cx="552.75" cy="330.24" r="1.55"/><circle cx="550.83" cy="327.59" r="1.55"/><circle cx="517.35" cy="307.07" r="1.55"/><circle cx="516.02" cy="306.17" r="1.55"/><circle cx="512.11" cy="304.05" r="1.55"/><circle cx="512.34" cy="298.57" r="1.55"/><circle cx="519.1" cy="309.72" r="1.55"/><circle cx="529.65" cy="305.32" r="1.55"/><circle cx="545.61" cy="320.26" r="1.55"/><circle cx="518.92" cy="309.08" r="1.55"/><circle cx="539.3" cy="318.22" r="1.55"/><circle cx="509.06" cy="307.63" r="1.55"/><circle cx="533.87" cy="311.56" r="1.55"/><circle cx="515.96" cy="310.74" r="1.55"/><circle cx="536.92" cy="322.99" r="1.55"/><circle cx="540.69" cy="325.11" r="1.55"/><circle cx="512.66" cy="317.83" r="1.55"/><circle cx="521.6" cy="313.82" r="1.55"/><circle cx="537.81" cy="330.66" r="1.55"/><circle cx="511.83" cy="311.7" r="1.55"/><circle cx="541.26" cy="333.65" r="1.55"/><circle cx="531.5" cy="320" r="1.55"/><circle cx="521.46" cy="313.81" r="1.55"/><circle cx="512.91" cy="314.76" r="1.55"/><circle cx="509.72" cy="315.95" r="1.55"/><circle cx="523.85" cy="319" r="1.55"/><circle cx="517.23" cy="324.01" r="1.55"/><circle cx="533.73" cy="334.62" r="1.55"/><circle cx="528.23" cy="324.95" r="1.55"/><circle cx="545.16" cy="328.76" r="1.55"/><circle cx="528.85" cy="320.25" r="1.55"/><circle cx="509.94" cy="313.83" r="1.55"/><circle cx="520.8" cy="314.82" r="1.55"/><circle cx="522.22" cy="317.15" r="1.55"/><circle cx="522.83" cy="323.55" r="1.55"/><circle cx="515.51" cy="323.15" r="1.55"/><circle cx="523.72" cy="320.52" r="1.55"/><circle cx="532.63" cy="324.83" r="1.55"/><circle cx="517.85" cy="324.89" r="1.55"/><circle cx="507.27" cy="317.79" r="1.55"/><circle cx="511.85" cy="321.79" r="1.55"/><circle cx="509.25" cy="310.66" r="1.55"/><circle cx="523.43" cy="316.87" r="1.55"/><circle cx="538.62" cy="325.61" r="1.55"/><circle cx="547.53" cy="329.4" r="1.55"/><circle cx="545.66" cy="335.93" r="1.55"/><circle cx="528.03" cy="319.62" r="1.55"/><circle cx="546.1" cy="328.97" r="1.55"/><circle cx="546.63" cy="333.96" r="1.55"/><circle cx="514.52" cy="325.45" r="1.55"/><circle cx="534.24" cy="334.63" r="1.55"/><circle cx="550.45" cy="334.38" r="1.55"/><circle cx="538.54" cy="336.34" r="1.55"/><circle cx="543.88" cy="330.45" r="1.55"/><circle cx="514.19" cy="320.64" r="1.55"/><circle cx="537.16" cy="328.52" r="1.55"/><circle cx="540.82" cy="330.08" r="1.55"/><circle cx="550.08" cy="332.07" r="1.55"/><circle cx="534.16" cy="325.79" r="1.55"/><circle cx="511.02" cy="317.83" r="1.55"/><circle cx="533.67" cy="321.29" r="1.55"/><circle cx="532.87" cy="330.17" r="1.55"/><circle cx="514.96" cy="317.49" r="1.55"/><circle cx="510.28" cy="317.93" r="1.55"/><circle cx="543.29" cy="330.42" r="1.55"/><circle cx="534.89" cy="323.71" r="1.55"/><circle cx="559.82" cy="337.62" r="1.55"/><circle cx="551.27" cy="338.56" r="1.55"/><circle cx="531.27" cy="317.93" r="1.55"/><circle cx="518.38" cy="327.15" r="1.55"/><circle cx="514.65" cy="325.46" r="1.55"/><circle cx="531.34" cy="318.91" r="1.55"/><circle cx="514.6" cy="320.15" r="1.55"/><circle cx="527.1" cy="321.59" r="1.55"/><circle cx="526.48" cy="322.63" r="1.55"/><circle cx="520.46" cy="317.84" r="1.55"/><circle cx="541.07" cy="336.95" r="1.55"/><circle cx="547.64" cy="329.01" r="1.55"/><circle cx="532.5" cy="320.14" r="1.55"/><circle cx="523.08" cy="331.8" r="1.55"/><circle cx="537.1" cy="321.63" r="1.55"/><circle cx="516.04" cy="314.77" r="1.55"/><circle cx="517.39" cy="312.68" r="1.55"/><circle cx="519.91" cy="317.62" r="1.55"/><circle cx="537.76" cy="336.17" r="1.55"/><circle cx="529.35" cy="325.46" r="1.55"/><circle cx="527.35" cy="319.98" r="1.55"/><circle cx="510.35" cy="318.19" r="1.55"/><circle cx="534.18" cy="328.57" r="1.55"/><circle cx="521.64" cy="317.33" r="1.55"/><circle cx="528.59" cy="323.15" r="1.55"/><circle cx="551.58" cy="335.24" r="1.55"/><circle cx="512.89" cy="314.55" r="1.55"/><circle cx="535.21" cy="330.12" r="1.55"/><circle cx="541.96" cy="332.56" r="1.55"/><circle cx="531.7" cy="326.27" r="1.55"/><circle cx="513.91" cy="317.43" r="1.55"/><circle cx="541.36" cy="330.61" r="1.55"/><circle cx="513.06" cy="312.08" r="1.55"/><circle cx="535.32" cy="327.2" r="1.55"/><circle cx="527.96" cy="316.6" r="1.55"/><circle cx="523.28" cy="323.59" r="1.55"/><circle cx="519.68" cy="317.29" r="1.55"/><circle cx="533.91" cy="329.9" r="1.55"/><circle cx="529.68" cy="317.59" r="1.55"/><circle cx="543.04" cy="337.29" r="1.55"/><circle cx="525.25" cy="322.41" r="1.55"/><circle cx="550.04" cy="331.8" r="1.55"/><circle cx="519.06" cy="322.3" r="1.55"/><circle cx="514.9" cy="321.61" r="1.55"/><circle cx="514.66" cy="311.53" r="1.55"/><circle cx="510.25" cy="321.6" r="1.55"/><circle cx="555.5" cy="336.07" r="1.55"/><circle cx="527.19" cy="319.79" r="1.55"/><circle cx="522.11" cy="320.37" r="1.55"/><circle cx="526.26" cy="334.24" r="1.55"/><circle cx="517.42" cy="320.75" r="1.55"/><circle cx="529.18" cy="333.95" r="1.55"/><circle cx="508.88" cy="311.85" r="1.55"/><circle cx="547.35" cy="336.51" r="1.55"/><circle cx="525.31" cy="318.03" r="1.55"/><circle cx="521.16" cy="331.14" r="1.55"/><circle cx="524.09" cy="318.13" r="1.55"/><circle cx="519.63" cy="324.02" r="1.55"/><circle cx="558.67" cy="338.14" r="1.55"/><circle cx="527.87" cy="317.41" r="1.55"/><circle cx="530.22" cy="324.56" r="1.55"/><circle cx="550.34" cy="331.79" r="1.55"/><circle cx="551.43" cy="332.8" r="1.55"/><circle cx="524.26" cy="320.67" r="1.55"/><circle cx="520.35" cy="311.91" r="1.55"/><circle cx="521.3" cy="312.48" r="1.55"/><circle cx="512.21" cy="324.71" r="1.55"/><circle cx="519.65" cy="322.3" r="1.55"/><circle cx="540.5" cy="329.89" r="1.55"/><circle cx="547.39" cy="334.99" r="1.55"/><circle cx="537.61" cy="321" r="1.55"/><circle cx="520.36" cy="317.24" r="1.55"/><circle cx="538.23" cy="319.63" r="1.55"/><circle cx="532.64" cy="334.16" r="1.55"/><circle cx="552.39" cy="336.97" r="1.55"/><circle cx="509.18" cy="318.66" r="1.55"/><circle cx="513.44" cy="315.59" r="1.55"/><circle cx="539.19" cy="328.29" r="1.55"/><circle cx="518.75" cy="320.88" r="1.55"/><circle cx="514.63" cy="316.02" r="1.55"/><circle cx="520.77" cy="327.68" r="1.55"/><circle cx="523.86" cy="316" r="1.55"/><circle cx="510.42" cy="312.99" r="1.55"/><circle cx="528.35" cy="326.23" r="1.55"/><circle cx="529.13" cy="318.36" r="1.55"/><circle cx="523.87" cy="326.71" r="1.55"/><circle cx="526.29" cy="322.29" r="1.55"/><circle cx="526.64" cy="315.82" r="1.55"/><circle cx="529.88" cy="334.2" r="1.55"/><circle cx="541.6" cy="336.84" r="1.55"/><circle cx="527.03" cy="324.88" r="1.55"/><circle cx="514.88" cy="318.36" r="1.55"/><circle cx="512.87" cy="324.47" r="1.55"/><circle cx="550.46" cy="338.52" r="1.55"/><circle cx="517.66" cy="313.74" r="1.55"/><circle cx="557.93" cy="338.78" r="1.55"/><circle cx="528.84" cy="334.97" r="1.55"/><circle cx="518.78" cy="321.79" r="1.55"/><circle cx="534.97" cy="321.32" r="1.55"/><circle cx="513.65" cy="317.29" r="1.55"/><circle cx="546.14" cy="336.47" r="1.55"/><circle cx="539.37" cy="326.23" r="1.55"/><circle cx="529.68" cy="327.19" r="1.55"/><circle cx="529.99" cy="329.44" r="1.55"/><circle cx="531.13" cy="322.93" r="1.55"/><circle cx="533.43" cy="316.94" r="1.55"/><circle cx="548.23" cy="333.01" r="1.55"/><circle cx="513.94" cy="322.7" r="1.55"/><circle cx="511.95" cy="323.04" r="1.55"/><circle cx="546.61" cy="332.94" r="1.55"/><circle cx="534.21" cy="321.15" r="1.55"/><circle cx="546.53" cy="334.04" r="1.55"/><circle cx="549.57" cy="337.45" r="1.55"/><circle cx="510.54" cy="320.35" r="1.55"/><circle cx="518.25" cy="317.75" r="1.55"/><circle cx="534.32" cy="319.41" r="1.55"/><circle cx="508.99" cy="315.37" r="1.55"/><circle cx="543.7" cy="336.41" r="1.55"/><circle cx="513.21" cy="325.66" r="1.55"/><circle cx="538.32" cy="336.03" r="1.55"/><circle cx="526.45" cy="332.56" r="1.55"/><circle cx="530.88" cy="315.21" r="1.55"/><circle cx="538.64" cy="329.58" r="1.55"/><circle cx="508.82" cy="314.41" r="1.55"/><circle cx="540.27" cy="322.75" r="1.55"/><circle cx="534.68" cy="336.42" r="1.55"/><circle cx="514.13" cy="316.7" r="1.55"/><circle cx="512.74" cy="320.54" r="1.55"/><circle cx="519.11" cy="327.22" r="1.55"/><circle cx="540.69" cy="324.01" r="1.55"/><circle cx="520.15" cy="314.4" r="1.55"/><circle cx="528.71" cy="317.8" r="1.55"/><circle cx="537.37" cy="320.33" r="1.55"/><circle cx="541.86" cy="323.09" r="1.55"/><circle cx="528.92" cy="317.01" r="1.55"/><circle cx="517.77" cy="327.94" r="1.55"/><circle cx="534.38" cy="328.93" r="1.55"/><circle cx="523.71" cy="318.86" r="1.55"/><circle cx="549.28" cy="331.1" r="1.55"/><circle cx="519.2" cy="313.11" r="1.55"/><circle cx="525.12" cy="332.11" r="1.55"/><circle cx="544.54" cy="334.94" r="1.55"/><circle cx="536.9" cy="322.86" r="1.55"/><circle cx="521.33" cy="328.94" r="1.55"/><circle cx="521.06" cy="316.97" r="1.55"/><circle cx="547.17" cy="337.87" r="1.55"/><circle cx="541.06" cy="330.44" r="1.55"/><circle cx="532.35" cy="334.77" r="1.55"/><circle cx="544.67" cy="335.3" r="1.55"/><circle cx="530.61" cy="331.38" r="1.55"/><circle cx="518.45" cy="328.37" r="1.55"/><circle cx="514.81" cy="310.79" r="1.55"/><circle cx="525.62" cy="314.18" r="1.55"/><circle cx="508.55" cy="311.23" r="1.55"/><circle cx="544.4" cy="328.7" r="1.55"/><circle cx="544.64" cy="331.74" r="1.55"/><circle cx="526.62" cy="334.12" r="1.55"/><circle cx="551.26" cy="336.29" r="1.55"/><circle cx="556.38" cy="337.86" r="1.55"/><circle cx="512.78" cy="316.07" r="1.55"/><circle cx="513.05" cy="311.02" r="1.55"/><circle cx="552.78" cy="333.95" r="1.55"/><circle cx="541.25" cy="334.34" r="1.55"/><circle cx="512.39" cy="312.89" r="1.55"/><circle cx="524.23" cy="322.5" r="1.55"/><circle cx="508.13" cy="317.57" r="1.55"/><circle cx="522.26" cy="331.11" r="1.55"/><circle cx="526.87" cy="319.46" r="1.55"/><circle cx="530.57" cy="332.8" r="1.55"/><circle cx="525.73" cy="330.79" r="1.55"/><circle cx="507.07" cy="315.96" r="1.55"/><circle cx="533.54" cy="333.5" r="1.55"/><circle cx="516.96" cy="324.59" r="1.55"/><circle cx="522.32" cy="316.33" r="1.55"/><circle cx="544.65" cy="333.21" r="1.55"/><circle cx="528.67" cy="321.64" r="1.55"/><circle cx="518.13" cy="317.76" r="1.55"/><circle cx="519.61" cy="323.6" r="1.55"/><circle cx="535.7" cy="332.26" r="1.55"/><circle cx="547.66" cy="329.07" r="1.55"/><circle cx="525.82" cy="319.64" r="1.55"/><circle cx="542.75" cy="331.89" r="1.55"/><circle cx="516.16" cy="322.94" r="1.55"/><circle cx="513.81" cy="323.63" r="1.55"/><circle cx="517.34" cy="318.89" r="1.55"/><circle cx="544.97" cy="334.89" r="1.55"/><circle cx="515.35" cy="314.6" r="1.55"/><circle cx="520.37" cy="319.63" r="1.55"/><circle cx="565.43" cy="338.81" r="1.55"/><circle cx="592.9" cy="327.68" r="1.55"/><circle cx="578.36" cy="335.19" r="1.55"/><circle cx="591.16" cy="329.06" r="1.55"/><circle cx="588.51" cy="328.28" r="1.55"/><circle cx="578.61" cy="334.13" r="1.55"/><circle cx="600.5" cy="327.57" r="1.55"/><circle cx="585.97" cy="334.31" r="1.55"/><circle cx="594.67" cy="333.27" r="1.55"/><circle cx="598.08" cy="332.84" r="1.55"/><circle cx="588.91" cy="328.08" r="1.55"/><circle cx="574.62" cy="331.76" r="1.55"/><circle cx="595.03" cy="333.55" r="1.55"/><circle cx="588.39" cy="323.78" r="1.55"/><circle cx="579.43" cy="328.1" r="1.55"/><circle cx="588.04" cy="327.14" r="1.55"/><circle cx="594.85" cy="326.7" r="1.55"/><circle cx="601.92" cy="329.46" r="1.55"/><circle cx="584.54" cy="333.63" r="1.55"/><circle cx="583.28" cy="331.99" r="1.55"/><circle cx="597.06" cy="329.51" r="1.55"/><circle cx="578.85" cy="338.5" r="1.55"/><circle cx="578.07" cy="334.59" r="1.55"/><circle cx="566.32" cy="339.27" r="1.55"/><circle cx="579.29" cy="333.23" r="1.55"/><circle cx="601.89" cy="329.62" r="1.55"/><circle cx="570.52" cy="335.41" r="1.55"/><circle cx="596.22" cy="331.88" r="1.55"/><circle cx="581.41" cy="330.36" r="1.55"/><circle cx="570.83" cy="338.84" r="1.55"/><circle cx="576.36" cy="331.98" r="1.55"/><circle cx="597.27" cy="325.99" r="1.55"/><circle cx="598" cy="324.14" r="1.55"/><circle cx="579.64" cy="331.95" r="1.55"/><circle cx="589.68" cy="326.15" r="1.55"/><circle cx="589.53" cy="323.78" r="1.55"/><circle cx="571.16" cy="334.88" r="1.55"/><circle cx="568.3" cy="337.3" r="1.55"/><circle cx="587.46" cy="334.99" r="1.55"/><circle cx="584.09" cy="334.15" r="1.55"/><circle cx="580.08" cy="337.12" r="1.55"/><circle cx="585.15" cy="324.08" r="1.55"/><circle cx="582.37" cy="329.01" r="1.55"/><circle cx="584.47" cy="336.71" r="1.55"/><circle cx="581.36" cy="330.37" r="1.55"/><circle cx="589.94" cy="336.24" r="1.55"/><circle cx="588.71" cy="331.92" r="1.55"/><circle cx="583.21" cy="328.73" r="1.55"/><circle cx="592.24" cy="331.69" r="1.55"/><circle cx="575.73" cy="336.68" r="1.55"/><circle cx="583.86" cy="334.76" r="1.55"/><circle cx="579.37" cy="330.19" r="1.55"/><circle cx="596.96" cy="324.68" r="1.55"/><circle cx="597.01" cy="327.02" r="1.55"/><circle cx="589.47" cy="335.21" r="1.55"/><circle cx="588.61" cy="335.05" r="1.55"/><circle cx="599.52" cy="330.01" r="1.55"/><circle cx="601.08" cy="331.34" r="1.55"/><circle cx="589.62" cy="335.15" r="1.55"/><circle cx="600.58" cy="331.41" r="1.55"/><circle cx="587.83" cy="331.73" r="1.55"/><circle cx="591.29" cy="331.08" r="1.55"/><circle cx="590.62" cy="322.98" r="1.55"/><circle cx="590.01" cy="328.16" r="1.55"/><circle cx="594.18" cy="320.64" r="1.55"/><circle cx="589.52" cy="326.28" r="1.55"/><circle cx="585.45" cy="323.94" r="1.55"/><circle cx="596.25" cy="330.64" r="1.55"/><circle cx="600.96" cy="327.92" r="1.55"/><circle cx="603.66" cy="328.53" r="1.55"/><circle cx="589.04" cy="322.98" r="1.55"/><circle cx="566.29" cy="338.89" r="1.55"/><circle cx="592.29" cy="323.61" r="1.55"/><circle cx="592.91" cy="322.45" r="1.55"/><circle cx="592.04" cy="336.55" r="1.55"/><circle cx="592.74" cy="320.28" r="1.55"/><circle cx="588.35" cy="333.46" r="1.55"/><circle cx="581.04" cy="338.17" r="1.55"/><circle cx="572.05" cy="338.85" r="1.55"/><circle cx="596.55" cy="320.18" r="1.55"/><circle cx="574.53" cy="333.89" r="1.55"/><circle cx="568.22" cy="336.67" r="1.55"/><circle cx="576.99" cy="330.63" r="1.55"/><circle cx="580.08" cy="332.78" r="1.55"/><circle cx="576.8" cy="332.11" r="1.55"/><circle cx="588.39" cy="327.32" r="1.55"/><circle cx="577.78" cy="335.09" r="1.55"/><circle cx="585.66" cy="324.67" r="1.55"/><circle cx="563.64" cy="339.05" r="1.55"/><circle cx="591.59" cy="335.96" r="1.55"/><circle cx="575.44" cy="331.28" r="1.55"/><circle cx="587.15" cy="325.01" r="1.55"/><circle cx="579.64" cy="337.24" r="1.55"/><circle cx="577.39" cy="332.95" r="1.55"/><circle cx="587.18" cy="337.41" r="1.55"/><circle cx="596.13" cy="324.48" r="1.55"/><circle cx="579.38" cy="330.88" r="1.55"/><circle cx="585.88" cy="324.28" r="1.55"/><circle cx="585.08" cy="335.32" r="1.55"/><circle cx="601.53" cy="323.44" r="1.55"/><circle cx="587.4" cy="332.8" r="1.55"/><circle cx="572.08" cy="334.35" r="1.55"/><circle cx="595.44" cy="328.2" r="1.55"/><circle cx="594.59" cy="323.41" r="1.55"/><circle cx="586.21" cy="337.43" r="1.55"/><circle cx="599.5" cy="329.51" r="1.55"/><circle cx="581.73" cy="330.93" r="1.55"/><circle cx="576.78" cy="330.41" r="1.55"/><circle cx="578.51" cy="329.41" r="1.55"/><circle cx="604.38" cy="326.39" r="1.55"/><circle cx="595.25" cy="321.79" r="1.55"/><circle cx="586.98" cy="325.78" r="1.55"/><circle cx="562.46" cy="339.4" r="1.55"/><circle cx="598.67" cy="328.76" r="1.55"/><circle cx="585.67" cy="324.02" r="1.55"/><circle cx="594.89" cy="327.49" r="1.55"/><circle cx="585.25" cy="336.87" r="1.55"/><circle cx="580.94" cy="338.49" r="1.55"/><circle cx="600.58" cy="319.85" r="1.55"/><circle cx="587.02" cy="326.89" r="1.55"/><circle cx="566.22" cy="338.74" r="1.55"/><circle cx="590.13" cy="326.79" r="1.55"/><circle cx="597.42" cy="319.49" r="1.55"/><circle cx="595.21" cy="333.47" r="1.55"/><circle cx="590.44" cy="324.8" r="1.55"/><circle cx="586.73" cy="334.49" r="1.55"/><circle cx="592.2" cy="322.62" r="1.55"/><circle cx="570.59" cy="338.21" r="1.55"/><circle cx="565.22" cy="338.1" r="1.55"/><circle cx="597.64" cy="331.76" r="1.55"/><circle cx="596.8" cy="328.58" r="1.55"/><circle cx="588.33" cy="321.51" r="1.55"/><circle cx="592.05" cy="330.18" r="1.55"/><circle cx="567.29" cy="336.87" r="1.55"/><circle cx="597.52" cy="325.56" r="1.55"/><circle cx="574.84" cy="337.56" r="1.55"/><circle cx="565.97" cy="339.15" r="1.55"/><circle cx="590.07" cy="322.96" r="1.55"/><circle cx="599.98" cy="319.71" r="1.55"/><circle cx="592.6" cy="324.69" r="1.55"/><circle cx="596.11" cy="325.69" r="1.55"/><circle cx="597.2" cy="329.61" r="1.55"/><circle cx="600.67" cy="323.11" r="1.55"/><circle cx="591.96" cy="322.65" r="1.55"/><circle cx="587.47" cy="328.95" r="1.55"/><circle cx="587.64" cy="333.43" r="1.55"/><circle cx="596.3" cy="330.8" r="1.55"/><circle cx="592.87" cy="327.11" r="1.55"/><circle cx="592.39" cy="319.67" r="1.55"/><circle cx="596.26" cy="325.57" r="1.55"/><circle cx="600.59" cy="328.56" r="1.55"/><circle cx="598.93" cy="324.12" r="1.55"/><circle cx="569.09" cy="336.05" r="1.55"/><circle cx="577.15" cy="331.05" r="1.55"/><circle cx="580.39" cy="329.38" r="1.55"/><circle cx="574.96" cy="333.51" r="1.55"/><circle cx="577.59" cy="334.35" r="1.55"/><circle cx="602.5" cy="328.94" r="1.55"/><circle cx="583.33" cy="329.69" r="1.55"/><circle cx="603.08" cy="323.22" r="1.55"/><circle cx="571.89" cy="335.74" r="1.55"/><circle cx="591.41" cy="322.62" r="1.55"/><circle cx="586.08" cy="329.53" r="1.55"/><circle cx="591.57" cy="320.67" r="1.55"/><circle cx="582.47" cy="329.07" r="1.55"/><circle cx="586.74" cy="336.67" r="1.55"/><circle cx="593.48" cy="321.97" r="1.55"/><circle cx="597.53" cy="329.59" r="1.55"/><circle cx="578.21" cy="338.36" r="1.55"/><circle cx="594.8" cy="325.64" r="1.55"/><circle cx="404" cy="68" r="1.55"/><circle cx="397.5" cy="77.5" r="1.55"/><circle cx="425.5" cy="117.5" r="1.55"/><circle cx="491" cy="117.5" r="1.55"/><circle cx="429.5" cy="175" r="1.55"/><circle cx="440" cy="175" r="1.55"/><circle cx="464.5" cy="190" r="1.55"/><circle cx="444" cy="211" r="1.55"/><circle cx="447" cy="221" r="1.55"/><circle cx="479" cy="242.5" r="1.55"/><circle cx="500.5" cy="241" r="1.55"/><circle cx="503" cy="229" r="1.55"/><circle cx="484.5" cy="267.5" r="1.55"/><circle cx="486.5" cy="280" r="1.55"/><circle cx="480.5" cy="287.5" r="1.55"/><circle cx="484.7" cy="266.9" r="1.55"/><circle cx="515.5" cy="273.7" r="1.55"/><circle cx="502.6" cy="276.6" r="1.55"/><circle cx="486.1" cy="280" r="1.55"/><circle cx="495.9" cy="281" r="1.55"/><circle cx="480.3" cy="288.2" r="1.55"/><circle cx="513.8" cy="287.6" r="1.55"/><circle cx="524.8" cy="286.9" r="1.55"/><circle cx="499.2" cy="290" r="1.55"/><circle cx="495.2" cy="292.7" r="1.55"/><circle cx="502.1" cy="294.1" r="1.55"/><circle cx="508.6" cy="294.1" r="1.55"/><circle cx="513" cy="294.4" r="1.55"/><circle cx="523" cy="296.1" r="1.55"/><circle cx="495.5" cy="299.3" r="1.55"/><circle cx="492.5" cy="304" r="1.55"/><circle cx="502" cy="301.2" r="1.55"/><circle cx="614.5" cy="285.2" r="1.55"/><circle cx="619.1" cy="286.1" r="1.55"/><circle cx="609.8" cy="291.7" r="1.55"/><circle cx="609.8" cy="302.3" r="1.55"/><circle cx="615.6" cy="302.3" r="1.55"/><circle cx="623.9" cy="304.8" r="1.55"/><circle cx="605" cy="305.3" r="1.55"/><circle cx="611" cy="304.8" r="1.55"/><circle cx="609.2" cy="307.1" r="1.55"/><circle cx="607.6" cy="310.9" r="1.55"/><circle cx="617.4" cy="310.9" r="1.55"/><circle cx="615.6" cy="313.9" r="1.55"/><circle cx="616.8" cy="316.2" r="1.55"/><circle cx="608" cy="315.2" r="1.55"/><circle cx="610" cy="315.5" r="1.55"/><circle cx="595.2" cy="315.2" r="1.55"/><circle cx="601.2" cy="315.2" r="1.55"/><circle cx="589.1" cy="318.5" r="1.55"/><circle cx="592.6" cy="318.5" r="1.55"/><circle cx="598.2" cy="318.5" r="1.55"/><circle cx="602.7" cy="317" r="1.55"/><circle cx="606.2" cy="320" r="1.55"/><circle cx="609.8" cy="323" r="1.55"/><circle cx="656.5" cy="267.5" r="1.55"/></g>
<g fill="#c81818" stroke="#3a0c0c" stroke-width="0.7"><circle cx="419.6" cy="41.6" r="1.55"/><circle cx="456.4" cy="60.9" r="1.55"/><circle cx="457" cy="145" r="1.55"/><circle cx="505.5" cy="260.3" r="1.55"/><circle cx="510" cy="277.3" r="1.55"/><circle cx="507.4" cy="312.8" r="1.55"/><circle cx="509.5" cy="319.9" r="1.55"/><circle cx="515.3" cy="325.7" r="1.55"/><circle cx="517.6" cy="313.2" r="1.55"/><circle cx="522.8" cy="311.8" r="1.55"/><circle cx="531.1" cy="327.2" r="1.55"/><circle cx="533" cy="329.7" r="1.55"/><circle cx="529.2" cy="334" r="1.55"/><circle cx="535" cy="334" r="1.55"/><circle cx="538.8" cy="332.1" r="1.55"/><circle cx="543.6" cy="336.9" r="1.55"/><circle cx="546.5" cy="334.6" r="1.55"/><circle cx="548.5" cy="337.8" r="1.55"/><circle cx="550.4" cy="338.4" r="1.55"/><circle cx="554.2" cy="338.8" r="1.55"/><circle cx="558.1" cy="339" r="1.55"/><circle cx="562" cy="339" r="1.55"/><circle cx="564.8" cy="339" r="1.55"/><circle cx="568.7" cy="338.4" r="1.55"/><circle cx="571.6" cy="337.8" r="1.55"/><circle cx="575.4" cy="337.5" r="1.55"/><circle cx="578.3" cy="336.9" r="1.55"/><circle cx="575.4" cy="335.5" r="1.55"/><circle cx="587" cy="331.7" r="1.55"/><circle cx="594.2" cy="333" r="1.55"/><circle cx="541.7" cy="336.3" r="1.55"/></g>
<rect x="385.5" y="26.5" width="282" height="337" fill="none" stroke="#999999" stroke-width="1"/>
<line x1="382.9" y1="339" x2="385" y2="339" stroke="#444" stroke-width="0.9" />
<text x="381" y="341.5" font-size="6.9" fill="#4d4d4d" text-anchor="end">0</text>
<line x1="382.9" y1="243.5" x2="385" y2="243.5" stroke="#444" stroke-width="0.9" />
<text x="381" y="246" font-size="6.9" fill="#4d4d4d" text-anchor="end">20</text>
<line x1="382.9" y1="148" x2="385" y2="148" stroke="#444" stroke-width="0.9" />
<text x="381" y="150.5" font-size="6.9" fill="#4d4d4d" text-anchor="end">40</text>
<line x1="382.9" y1="52.5" x2="385" y2="52.5" stroke="#444" stroke-width="0.9" />
<text x="381" y="55" font-size="6.9" fill="#4d4d4d" text-anchor="end">60</text>
<line x1="411.68" y1="364" x2="411.68" y2="366.2" stroke="#444" stroke-width="0.9" />
<text x="411.68" y="372.7" font-size="6.9" fill="#4d4d4d" text-anchor="middle">−4</text>
<line x1="486.34" y1="364" x2="486.34" y2="366.2" stroke="#444" stroke-width="0.9" />
<text x="486.34" y="372.7" font-size="6.9" fill="#4d4d4d" text-anchor="middle">−2</text>
<line x1="561" y1="364" x2="561" y2="366.2" stroke="#444" stroke-width="0.9" />
<text x="561" y="372.7" font-size="6.9" fill="#4d4d4d" text-anchor="middle">0</text>
<line x1="635.66" y1="364" x2="635.66" y2="366.2" stroke="#444" stroke-width="0.9" />
<text x="635.66" y="372.7" font-size="6.9" fill="#4d4d4d" text-anchor="middle">2</text>
<text x="51.55" y="43.9" font-size="8.7" fill="#b42020" textLength="30.25" lengthAdjust="spacingAndGlyphs">Cdkn1a</text>
<text x="76.71" y="59" font-size="8.7" fill="#b42020" textLength="38.51" lengthAdjust="spacingAndGlyphs">Trp53inp1</text>
<text x="143.36" y="52.6" font-size="8.7" fill="#b42020" textLength="25.17" lengthAdjust="spacingAndGlyphs">Ccng1</text>
<text x="173.85" y="241" font-size="8.7" fill="#b42020" textLength="25.31" lengthAdjust="spacingAndGlyphs">Mdm2</text>
<text x="386.15" y="42.3" font-size="8.7" fill="#b42020" textLength="30.35" lengthAdjust="spacingAndGlyphs">Cdkn1a</text>
<text x="462.55" y="146" font-size="8.7" fill="#b42020" textLength="25.89" lengthAdjust="spacingAndGlyphs">Ccng1</text>
<text x="510.27" y="259.3" font-size="8.7" fill="#b42020" textLength="24.89" lengthAdjust="spacingAndGlyphs">Mdm2</text>
<rect x="247.2" y="26.8" width="66.8" height="34" fill="#8a8a8a" fill-opacity="0.49"/>
<text x="252.27" y="40" font-size="8.4" fill="#111" textLength="56.15" lengthAdjust="spacingAndGlyphs">Marker Genes</text>
<circle cx="260.4" cy="52.2" r="2.2" fill="#cc1f1f" stroke="#3a1010" stroke-width="0.6"/>
<text x="265.17" y="55.5" font-size="8.6" fill="#111" textLength="36.5" lengthAdjust="spacingAndGlyphs">P53 DSP</text>
<rect x="601.1" y="26.8" width="66.4" height="34.2" fill="#8a8a8a" fill-opacity="0.49"/>
<text x="606.17" y="40.6" font-size="8.4" fill="#111" textLength="56.35" lengthAdjust="spacingAndGlyphs">Marker Genes</text>
<circle cx="611.7" cy="51.7" r="2.2" fill="#cc1f1f" stroke="#3a1010" stroke-width="0.6"/>
<text x="619.36" y="55.7" font-size="8.6" fill="#111" textLength="36.91" lengthAdjust="spacingAndGlyphs">P53 DSP</text>
<text x="-234.45" y="15.6" font-size="11.6" fill="#111" textLength="70.42" lengthAdjust="spacingAndGlyphs" transform="rotate(-90)">-Log10(padj)</text>
<text x="-225.45" y="365.7" font-size="11.6" fill="#111" textLength="70.42" lengthAdjust="spacingAndGlyphs" transform="rotate(-90)">-Log10(padj)</text>
<text x="38.67" y="388.3" font-size="14.6" fill="#111" textLength="49.1" lengthAdjust="spacingAndGlyphs">Log FC</text>
<text x="92.75" y="388.3" font-size="14.6" fill="#111" font-style="italic" textLength="37.71" lengthAdjust="spacingAndGlyphs">Pole4</text>
<text x="130.55" y="383.5" font-size="8.6" fill="#111" font-style="italic" textLength="8.24" lengthAdjust="spacingAndGlyphs">-/-</text>
<text x="143.5" y="388.3" font-size="14.6" fill="#111" font-style="italic" textLength="37.93" lengthAdjust="spacingAndGlyphs">Trp53</text>
<text x="181.17" y="383.5" font-size="8.6" fill="#111" font-style="italic" textLength="7.92" lengthAdjust="spacingAndGlyphs">-/-</text>
<text x="193.65" y="388.3" font-size="14.6" fill="#111" textLength="14.37" lengthAdjust="spacingAndGlyphs">vs</text>
<text x="212.84" y="388.3" font-size="14.6" fill="#111" font-style="italic" textLength="37.91" lengthAdjust="spacingAndGlyphs">Pole4</text>
<text x="250.13" y="383.5" font-size="8.6" fill="#111" font-style="italic" textLength="8.57" lengthAdjust="spacingAndGlyphs">-/-</text>
<text x="264.03" y="388.3" font-size="14.6" fill="#111" font-style="italic" textLength="37" lengthAdjust="spacingAndGlyphs">Trp53</text>
<text x="301.44" y="383.5" font-size="8.6" fill="#111" font-style="italic" textLength="12.66" lengthAdjust="spacingAndGlyphs">+/+</text>
<text x="383.97" y="387.8" font-size="14.6" fill="#111" textLength="49.31" lengthAdjust="spacingAndGlyphs">Log FC</text>
<text x="438.44" y="387.8" font-size="14.6" fill="#111" font-style="italic" textLength="38.12" lengthAdjust="spacingAndGlyphs">Pole4</text>
<text x="476.25" y="383" font-size="8.6" fill="#111" font-style="italic" textLength="12.55" lengthAdjust="spacingAndGlyphs">+/+</text>
<text x="494.46" y="387.8" font-size="14.6" fill="#111" font-style="italic" textLength="35.96" lengthAdjust="spacingAndGlyphs">Trp53</text>
<text x="530.49" y="383" font-size="8.6" fill="#111" font-style="italic" textLength="9.33" lengthAdjust="spacingAndGlyphs">-/-</text>
<text x="544.35" y="387.8" font-size="14.6" fill="#111" textLength="14.37" lengthAdjust="spacingAndGlyphs">vs</text>
<text x="563.34" y="387.8" font-size="14.6" fill="#111" font-style="italic" textLength="38.22" lengthAdjust="spacingAndGlyphs">Pole4</text>
<text x="601.23" y="383" font-size="8.6" fill="#111" font-style="italic" textLength="13.09" lengthAdjust="spacingAndGlyphs">+/+</text>
<text x="618.92" y="387.8" font-size="14.6" fill="#111" font-style="italic" textLength="37.2" lengthAdjust="spacingAndGlyphs">Trp53</text>
<text x="656.22" y="383" font-size="8.6" fill="#111" font-style="italic" textLength="13.3" lengthAdjust="spacingAndGlyphs">+/+</text>
<rect x="1" y="487.8" width="290.3" height="293" fill="#ebebeb"/>
<text x="20.17" y="498" font-size="10.4" fill="#111" font-weight="bold" textLength="64.07" lengthAdjust="spacingAndGlyphs">Enrichment</text>
<text x="90.74" y="498" font-size="10.4" fill="#111" font-weight="bold" textLength="28.1" lengthAdjust="spacingAndGlyphs">plot:</text>
<text x="122.36" y="498" font-size="10.4" fill="#111" font-weight="bold" textLength="148.98" lengthAdjust="spacingAndGlyphs">HALLMARK_E2F_TARGETS</text>
<rect x="32.5" y="503.3" width="254.7" height="240.3" fill="#fff"/>
<line x1="32.5" y1="598.67" x2="287.2" y2="598.67" stroke="#c8c8c8" stroke-width="0.6" stroke-dasharray="1,1.6"/>
<line x1="32.5" y1="584.74" x2="287.2" y2="584.74" stroke="#c8c8c8" stroke-width="0.6" stroke-dasharray="1,1.6"/>
<line x1="32.5" y1="570.81" x2="287.2" y2="570.81" stroke="#c8c8c8" stroke-width="0.6" stroke-dasharray="1,1.6"/>
<line x1="32.5" y1="556.88" x2="287.2" y2="556.88" stroke="#c8c8c8" stroke-width="0.6" stroke-dasharray="1,1.6"/>
<line x1="32.5" y1="542.95" x2="287.2" y2="542.95" stroke="#c8c8c8" stroke-width="0.6" stroke-dasharray="1,1.6"/>
<line x1="32.5" y1="529.02" x2="287.2" y2="529.02" stroke="#c8c8c8" stroke-width="0.6" stroke-dasharray="1,1.6"/>
<line x1="32.5" y1="515.09" x2="287.2" y2="515.09" stroke="#c8c8c8" stroke-width="0.6" stroke-dasharray="1,1.6"/>
<line x1="32.5" y1="673.4" x2="287.2" y2="673.4" stroke="#c8c8c8" stroke-width="0.6" stroke-dasharray="1,1.6"/>
<line x1="32.5" y1="690.6" x2="287.2" y2="690.6" stroke="#c8c8c8" stroke-width="0.6" stroke-dasharray="1,1.6"/>
<line x1="32.5" y1="707.8" x2="287.2" y2="707.8" stroke="#c8c8c8" stroke-width="0.6" stroke-dasharray="1,1.6"/>
<line x1="32.5" y1="725" x2="287.2" y2="725" stroke="#c8c8c8" stroke-width="0.6" stroke-dasharray="1,1.6"/>
<line x1="72.67" y1="503.3" x2="72.67" y2="618.2" stroke="#c8c8c8" stroke-width="0.6" stroke-dasharray="1,1.6"/>
<line x1="72.67" y1="666.8" x2="72.67" y2="743.6" stroke="#c8c8c8" stroke-width="0.6" stroke-dasharray="1,1.6"/>
<line x1="112.83" y1="503.3" x2="112.83" y2="618.2" stroke="#c8c8c8" stroke-width="0.6" stroke-dasharray="1,1.6"/>
<line x1="112.83" y1="666.8" x2="112.83" y2="743.6" stroke="#c8c8c8" stroke-width="0.6" stroke-dasharray="1,1.6"/>
<line x1="153" y1="503.3" x2="153" y2="618.2" stroke="#c8c8c8" stroke-width="0.6" stroke-dasharray="1,1.6"/>
<line x1="153" y1="666.8" x2="153" y2="743.6" stroke="#c8c8c8" stroke-width="0.6" stroke-dasharray="1,1.6"/>
<line x1="193.17" y1="503.3" x2="193.17" y2="618.2" stroke="#c8c8c8" stroke-width="0.6" stroke-dasharray="1,1.6"/>
<line x1="193.17" y1="666.8" x2="193.17" y2="743.6" stroke="#c8c8c8" stroke-width="0.6" stroke-dasharray="1,1.6"/>
<line x1="233.33" y1="503.3" x2="233.33" y2="618.2" stroke="#c8c8c8" stroke-width="0.6" stroke-dasharray="1,1.6"/>
<line x1="233.33" y1="666.8" x2="233.33" y2="743.6" stroke="#c8c8c8" stroke-width="0.6" stroke-dasharray="1,1.6"/>
<line x1="273.5" y1="503.3" x2="273.5" y2="618.2" stroke="#c8c8c8" stroke-width="0.6" stroke-dasharray="1,1.6"/>
<line x1="273.5" y1="666.8" x2="273.5" y2="743.6" stroke="#c8c8c8" stroke-width="0.6" stroke-dasharray="1,1.6"/>
<line x1="32.5" y1="612.6" x2="287.2" y2="612.6" stroke="#a0a0a0" stroke-width="1" />
<line x1="30.5" y1="612.6" x2="32.5" y2="612.6" stroke="#555" stroke-width="0.7" />
<text x="20.54" y="615.5" font-size="6.6" fill="#222" font-weight="bold" textLength="9.02" lengthAdjust="spacingAndGlyphs">0.0</text>
<line x1="30.5" y1="598.67" x2="32.5" y2="598.67" stroke="#555" stroke-width="0.7" />
<text x="20.55" y="601.57" font-size="6.6" fill="#222" font-weight="bold" textLength="8.93" lengthAdjust="spacingAndGlyphs">0.1</text>
<line x1="30.5" y1="584.74" x2="32.5" y2="584.74" stroke="#555" stroke-width="0.7" />
<text x="20.54" y="587.64" font-size="6.6" fill="#222" font-weight="bold" textLength="9.02" lengthAdjust="spacingAndGlyphs">0.2</text>
<line x1="30.5" y1="570.81" x2="32.5" y2="570.81" stroke="#555" stroke-width="0.7" />
<text x="20.54" y="573.71" font-size="6.6" fill="#222" font-weight="bold" textLength="8.99" lengthAdjust="spacingAndGlyphs">0.3</text>
<line x1="30.5" y1="556.88" x2="32.5" y2="556.88" stroke="#555" stroke-width="0.7" />
<text x="20.55" y="559.78" font-size="6.6" fill="#222" font-weight="bold" textLength="8.78" lengthAdjust="spacingAndGlyphs">0.4</text>
<line x1="30.5" y1="542.95" x2="32.5" y2="542.95" stroke="#555" stroke-width="0.7" />
<text x="20.55" y="545.85" font-size="6.6" fill="#222" font-weight="bold" textLength="8.93" lengthAdjust="spacingAndGlyphs">0.5</text>
<line x1="30.5" y1="529.02" x2="32.5" y2="529.02" stroke="#555" stroke-width="0.7" />
<text x="20.54" y="531.92" font-size="6.6" fill="#222" font-weight="bold" textLength="8.99" lengthAdjust="spacingAndGlyphs">0.6</text>
<line x1="30.5" y1="515.09" x2="32.5" y2="515.09" stroke="#555" stroke-width="0.7" />
<text x="20.54" y="517.99" font-size="6.6" fill="#222" font-weight="bold" textLength="9.04" lengthAdjust="spacingAndGlyphs">0.7</text>
<line x1="30.5" y1="673.4" x2="32.5" y2="673.4" stroke="#555" stroke-width="0.7" />
<text x="20.48" y="675.6" font-size="6.6" fill="#222" font-weight="bold" textLength="8.9" lengthAdjust="spacingAndGlyphs">2.5</text>
<line x1="30.5" y1="690.6" x2="32.5" y2="690.6" stroke="#555" stroke-width="0.7" />
<text x="20.44" y="692.8" font-size="6.6" fill="#222" font-weight="bold" textLength="9.02" lengthAdjust="spacingAndGlyphs">0.0</text>
<line x1="30.5" y1="707.8" x2="32.5" y2="707.8" stroke="#555" stroke-width="0.7" />
<text x="18.35" y="710" font-size="6.6" fill="#222" font-weight="bold" textLength="11.03" lengthAdjust="spacingAndGlyphs">-2.5</text>
<line x1="30.5" y1="725" x2="32.5" y2="725" stroke="#555" stroke-width="0.7" />
<text x="18.35" y="727.2" font-size="6.6" fill="#222" font-weight="bold" textLength="11.12" lengthAdjust="spacingAndGlyphs">-5.0</text>
<line x1="30.5" y1="742.2" x2="32.5" y2="742.2" stroke="#555" stroke-width="0.7" />
<text x="18.35" y="744.4" font-size="6.6" fill="#222" font-weight="bold" textLength="11.03" lengthAdjust="spacingAndGlyphs">-7.5</text>
<line x1="32.5" y1="743.6" x2="32.5" y2="745.6" stroke="#555" stroke-width="0.7" />
<text x="31.11" y="751.9" font-size="5.9" fill="#111" textLength="4.19" lengthAdjust="spacingAndGlyphs">0</text>
<line x1="72.67" y1="743.6" x2="72.67" y2="745.6" stroke="#555" stroke-width="0.7" />
<text x="65.17" y="751.9" font-size="5.9" fill="#111" textLength="16.28" lengthAdjust="spacingAndGlyphs">2,500</text>
<line x1="112.83" y1="743.6" x2="112.83" y2="745.6" stroke="#555" stroke-width="0.7" />
<text x="105.95" y="751.9" font-size="5.9" fill="#111" textLength="15.49" lengthAdjust="spacingAndGlyphs">5,000</text>
<line x1="153" y1="743.6" x2="153" y2="745.6" stroke="#555" stroke-width="0.7" />
<text x="145.78" y="751.9" font-size="5.9" fill="#111" textLength="15.46" lengthAdjust="spacingAndGlyphs">7,500</text>
<line x1="193.17" y1="743.6" x2="193.17" y2="745.6" stroke="#555" stroke-width="0.7" />
<text x="183.52" y="751.9" font-size="5.9" fill="#111" textLength="19.33" lengthAdjust="spacingAndGlyphs">10,000</text>
<line x1="233.33" y1="743.6" x2="233.33" y2="745.6" stroke="#555" stroke-width="0.7" />
<text x="223.81" y="751.9" font-size="5.9" fill="#111" textLength="19.54" lengthAdjust="spacingAndGlyphs">12,500</text>
<line x1="273.5" y1="743.6" x2="273.5" y2="745.6" stroke="#555" stroke-width="0.7" />
<text x="263.3" y="751.9" font-size="5.9" fill="#111" textLength="19.95" lengthAdjust="spacingAndGlyphs">15,000</text>
<text x="114.13" y="760.6" font-size="7.2" fill="#222" textLength="90.03" lengthAdjust="spacingAndGlyphs">Rank in Ordered Dataset</text>
<text x="-602.68" y="16.1" font-size="7.8" fill="#222" textLength="83.29" lengthAdjust="spacingAndGlyphs" transform="rotate(-90)">Enrichment score (ES)</text>
<text x="-762.37" y="13.8" font-size="7.8" fill="#222" textLength="114.28" lengthAdjust="spacingAndGlyphs" transform="rotate(-90)">Ranked list metric (PreRanked)</text>
<line x1="133.48" y1="666.8" x2="133.48" y2="743.6" stroke="#a0a0a0" stroke-width="0.6" stroke-dasharray="2.5,2"/>
<polygon points="32.5,690.6 32.5,675.5 33.5,677.8 35,679.6 38,681.6 42,683 50,684.6 60,686 75,687.3 90,688.2 110,689.2 133.5,690.6 170,690.6 170,690.6 177,690.9 200,691.6 215,692.6 230,694 245,696 255,697.8 262,699.8 267,702.2 270.5,705.5 272.8,709.5 273.8,715 274.3,741.5 274.9,741.5 274.9,690.6" fill="#b3b3b3"/>
<text x="34.88" y="672.5" font-size="6.2" fill="#b81c1c" textLength="85.72" lengthAdjust="spacingAndGlyphs">'na_pos' (positively correlated)</text>
<text x="107.3" y="707.1" font-size="5.8" fill="#000" textLength="52.97" lengthAdjust="spacingAndGlyphs">Zero cross at 6285</text>
<text x="159.47" y="740.3" font-size="6.2" fill="#2a2a96" textLength="90.03" lengthAdjust="spacingAndGlyphs">'na_neg' (negatively correlated)</text>
<rect x="32.5" y="620" width="18.4" height="36.9" fill="#000"/>
<line x1="51.8" y1="620" x2="51.8" y2="656.9" stroke="#666" stroke-width="0.8" />
<line x1="53.7" y1="620" x2="53.7" y2="656.9" stroke="#222" stroke-width="0.8" />
<line x1="55.7" y1="620" x2="55.7" y2="656.9" stroke="#111" stroke-width="0.8" />
<line x1="58.6" y1="620" x2="58.6" y2="656.9" stroke="#111" stroke-width="0.8" />
<line x1="59.4" y1="620" x2="59.4" y2="656.9" stroke="#222" stroke-width="0.8" />
<line x1="60.2" y1="620" x2="60.2" y2="656.9" stroke="#333" stroke-width="0.8" />
<line x1="61" y1="620" x2="61" y2="656.9" stroke="#444" stroke-width="0.8" />
<line x1="61.8" y1="620" x2="61.8" y2="656.9" stroke="#555" stroke-width="0.8" />
<line x1="62.6" y1="620" x2="62.6" y2="656.9" stroke="#777" stroke-width="0.8" />
<line x1="63.4" y1="620" x2="63.4" y2="656.9" stroke="#888" stroke-width="0.8" />
<line x1="64.3" y1="620" x2="64.3" y2="656.9" stroke="#999" stroke-width="0.8" />
<line x1="65.3" y1="620" x2="65.3" y2="656.9" stroke="#aaa" stroke-width="0.8" />
<line x1="67.2" y1="620" x2="67.2" y2="656.9" stroke="#555" stroke-width="0.8" />
<line x1="70.5" y1="620" x2="70.5" y2="656.9" stroke="#444" stroke-width="0.8" />
<line x1="72" y1="620" x2="72" y2="656.9" stroke="#888" stroke-width="0.8" />
<line x1="75.9" y1="620" x2="75.9" y2="656.9" stroke="#222" stroke-width="0.8" />
<line x1="77.3" y1="620" x2="77.3" y2="656.9" stroke="#222" stroke-width="0.8" />
<line x1="93.7" y1="620" x2="93.7" y2="656.9" stroke="#333" stroke-width="0.8" />
<line x1="103.9" y1="620" x2="103.9" y2="656.9" stroke="#666" stroke-width="0.8" />
<line x1="110.2" y1="620" x2="110.2" y2="656.9" stroke="#444" stroke-width="0.8" />
<line x1="113.5" y1="620" x2="113.5" y2="656.9" stroke="#444" stroke-width="0.8" />
<line x1="118.7" y1="620" x2="118.7" y2="656.9" stroke="#666" stroke-width="0.8" />
<line x1="120.7" y1="620" x2="120.7" y2="656.9" stroke="#444" stroke-width="0.8" />
<line x1="124.7" y1="620" x2="124.7" y2="656.9" stroke="#444" stroke-width="0.8" />
<line x1="133.4" y1="620" x2="133.4" y2="656.9" stroke="#333" stroke-width="0.8" />
<line x1="179" y1="620" x2="179" y2="656.9" stroke="#555" stroke-width="0.8" />
<line x1="197.9" y1="620" x2="197.9" y2="656.9" stroke="#555" stroke-width="0.8" />
<line x1="208.5" y1="620" x2="208.5" y2="656.9" stroke="#444" stroke-width="0.8" />
<line x1="213.5" y1="620" x2="213.5" y2="656.9" stroke="#666" stroke-width="0.8" />
<line x1="217.5" y1="620" x2="217.5" y2="656.9" stroke="#444" stroke-width="0.8" />
<line x1="273.9" y1="619.8" x2="273.9" y2="657.3" stroke="#4a4a4a" stroke-width="1.5" />
<rect x="32.5" y="657.3" width="3.5" height="9.5" fill="#3a0808"/>
<rect x="36" y="657.3" width="4" height="9.5" fill="#701a1a"/>
<rect x="40" y="657.3" width="5" height="9.5" fill="#8c2424"/>
<rect x="45" y="657.3" width="7" height="9.5" fill="#a42e2e"/>
<rect x="52" y="657.3" width="32.6" height="9.5" fill="#b63a3a"/>
<rect x="84.6" y="657.3" width="16.4" height="9.5" fill="#c85a68"/>
<rect x="101" y="657.3" width="15.4" height="9.5" fill="#d07882"/>
<rect x="116.4" y="657.3" width="61.2" height="9.5" fill="#e2aacc"/>
<rect x="177.6" y="657.3" width="41.4" height="9.5" fill="#ccc6e6"/>
<rect x="219" y="657.3" width="10.9" height="9.5" fill="#b9b2da"/>
<rect x="229.9" y="657.3" width="10" height="9.5" fill="#6a64b0"/>
<rect x="239.9" y="657.3" width="26.9" height="9.5" fill="#4a3e90"/>
<rect x="266.8" y="657.3" width="8" height="9.5" fill="#2e2a80"/>
<line x1="32.5" y1="657.3" x2="287.2" y2="657.3" stroke="#9a9a9a" stroke-width="0.7" />
<line x1="32.5" y1="666.9" x2="287.2" y2="666.9" stroke="#9a9a9a" stroke-width="0.7" />
<line x1="32.5" y1="618.2" x2="287.2" y2="618.2" stroke="#9a9a9a" stroke-width="0.8" />
<polyline points="32.9,612.6 34.3,601.4 35.8,587 37.2,572.5 38.7,560.9 39.9,553.6 41.6,546.4 43.8,540.6 45.2,536.2 46.7,529 49.6,523.2 52.5,516.7 55.4,515.2 56.8,510.9 59,509.9 64.1,509 67,509.6 69.1,510.4 71.3,509.9 73,510.3 74.9,510.9 76.5,510.2 78.6,509.9 85.1,513.8 93.8,518.1 99.6,520.6 104,522.9 110.5,525.7 118.3,529.3 124.9,531.4 134,536.1 141.9,539.8 152.4,546.6 165.4,554.5 178.5,562 189,567.5 196.9,571.5 207.3,576.7 217.8,581.2 230.9,589 244,596.3 257.1,604.2 272.8,613.1 275.3,613.3" fill="none" stroke="#66a62e" stroke-width="2.3" stroke-linejoin="round"/>
<rect x="32.5" y="503.3" width="254.7" height="240.3" fill="none" stroke="#ababab" stroke-width="1"/>
<rect x="37" y="767.4" width="217.2" height="13.1" fill="#fff" stroke="#333" stroke-width="0.9"/>
<line x1="38.9" y1="774.1" x2="48" y2="774.1" stroke="#66a62e" stroke-width="1.6" />
<text x="49.72" y="776" font-size="7" fill="#222" textLength="66.65" lengthAdjust="spacingAndGlyphs">Enrichment profile</text>
<line x1="119.4" y1="774.1" x2="128.2" y2="774.1" stroke="#222" stroke-width="0.8" />
<text x="130.24" y="776" font-size="7" fill="#222" textLength="13.85" lengthAdjust="spacingAndGlyphs">Hits</text>
<line x1="148" y1="771.5" x2="156.2" y2="771.5" stroke="#dcdcdc" stroke-width="0.9" />
<line x1="161.2" y1="774.3" x2="169.4" y2="774.3" stroke="#c8c8c8" stroke-width="0.9" />
<text x="171.73" y="776" font-size="7" fill="#222" textLength="81.07" lengthAdjust="spacingAndGlyphs">Ranking metric scores</text>
<rect x="327.3" y="548.9" width="43" height="8.21" fill="#f1e8a8"/>
<rect x="369.7" y="548.9" width="43" height="8.21" fill="#f4f0b0"/>
<rect x="412.1" y="548.9" width="43.4" height="8.21" fill="#f5f0ac"/>
<rect x="454.9" y="548.9" width="43" height="8.21" fill="#f3eca6"/>
<rect x="497.3" y="548.9" width="43" height="8.21" fill="#f4eca4"/>
<rect x="539.7" y="548.9" width="42.3" height="8.21" fill="#efebb4"/>
<rect x="327.3" y="556.51" width="43" height="8.21" fill="#efdf9c"/>
<rect x="369.7" y="556.51" width="43" height="8.21" fill="#f4efae"/>
<rect x="412.1" y="556.51" width="43.4" height="8.21" fill="#f4eeaa"/>
<rect x="454.9" y="556.51" width="43" height="8.21" fill="#efecbc"/>
<rect x="497.3" y="556.51" width="43" height="8.21" fill="#efebb6"/>
<rect x="539.7" y="556.51" width="42.3" height="8.21" fill="#e6e2ba"/>
<rect x="327.3" y="564.11" width="43" height="8.21" fill="#f3eba8"/>
<rect x="369.7" y="564.11" width="43" height="8.21" fill="#f0e2a0"/>
<rect x="412.1" y="564.11" width="43.4" height="8.21" fill="#f3eaa6"/>
<rect x="454.9" y="564.11" width="43" height="8.21" fill="#e6e3b8"/>
<rect x="497.3" y="564.11" width="43" height="8.21" fill="#ecebb8"/>
<rect x="539.7" y="564.11" width="42.3" height="8.21" fill="#eeebb8"/>
<rect x="327.3" y="571.72" width="43" height="8.21" fill="#f0e4a2"/>
<rect x="369.7" y="571.72" width="43" height="8.21" fill="#efdf9c"/>
<rect x="412.1" y="571.72" width="43.4" height="8.21" fill="#f1e6a2"/>
<rect x="454.9" y="571.72" width="43" height="8.21" fill="#e4e0b6"/>
<rect x="497.3" y="571.72" width="43" height="8.21" fill="#dfdcb8"/>
<rect x="539.7" y="571.72" width="42.3" height="8.21" fill="#e2dfb8"/>
<rect x="327.3" y="579.32" width="43" height="8.21" fill="#ead396"/>
<rect x="369.7" y="579.32" width="43" height="8.21" fill="#f4f0aa"/>
<rect x="412.1" y="579.32" width="43.4" height="8.21" fill="#eedb9c"/>
<rect x="454.9" y="579.32" width="43" height="8.21" fill="#d2cfbc"/>
<rect x="497.3" y="579.32" width="43" height="8.21" fill="#d4d0bc"/>
<rect x="539.7" y="579.32" width="42.3" height="8.21" fill="#f0ecb0"/>
<rect x="327.3" y="586.93" width="43" height="8.21" fill="#ead396"/>
<rect x="369.7" y="586.93" width="43" height="8.21" fill="#f1e8a4"/>
<rect x="412.1" y="586.93" width="43.4" height="8.21" fill="#ecd79a"/>
<rect x="454.9" y="586.93" width="43" height="8.21" fill="#d9d6bc"/>
<rect x="497.3" y="586.93" width="43" height="8.21" fill="#cbc8bf"/>
<rect x="539.7" y="586.93" width="42.3" height="8.21" fill="#dddab8"/>
<rect x="327.3" y="594.54" width="43" height="8.21" fill="#eedd9c"/>
<rect x="369.7" y="594.54" width="43" height="8.21" fill="#f0e4a2"/>
<rect x="412.1" y="594.54" width="43.4" height="8.21" fill="#ecd89a"/>
<rect x="454.9" y="594.54" width="43" height="8.21" fill="#dcd9b8"/>
<rect x="497.3" y="594.54" width="43" height="8.21" fill="#d6d3bc"/>
<rect x="539.7" y="594.54" width="42.3" height="8.21" fill="#c9c5c0"/>
<rect x="327.3" y="602.14" width="43" height="8.21" fill="#ead496"/>
<rect x="369.7" y="602.14" width="43" height="8.21" fill="#f2e8a4"/>
<rect x="412.1" y="602.14" width="43.4" height="8.21" fill="#ecd89a"/>
<rect x="454.9" y="602.14" width="43" height="8.21" fill="#cac7c0"/>
<rect x="497.3" y="602.14" width="43" height="8.21" fill="#d6d3bc"/>
<rect x="539.7" y="602.14" width="42.3" height="8.21" fill="#d4d1bc"/>
<rect x="327.3" y="609.75" width="43" height="8.21" fill="#ead597"/>
<rect x="369.7" y="609.75" width="43" height="8.21" fill="#f2e6a2"/>
<rect x="412.1" y="609.75" width="43.4" height="8.21" fill="#eedc9c"/>
<rect x="454.9" y="609.75" width="43" height="8.21" fill="#cfcdbd"/>
<rect x="497.3" y="609.75" width="43" height="8.21" fill="#d0cebd"/>
<rect x="539.7" y="609.75" width="42.3" height="8.21" fill="#d2cfbd"/>
<rect x="327.3" y="617.36" width="43" height="8.21" fill="#f2e6a0"/>
<rect x="369.7" y="617.36" width="43" height="8.21" fill="#efdc9c"/>
<rect x="412.1" y="617.36" width="43.4" height="8.21" fill="#ecd698"/>
<rect x="454.9" y="617.36" width="43" height="8.21" fill="#cdcabd"/>
<rect x="497.3" y="617.36" width="43" height="8.21" fill="#e1dfb8"/>
<rect x="539.7" y="617.36" width="42.3" height="8.21" fill="#cdcac0"/>
<rect x="327.3" y="624.96" width="43" height="8.21" fill="#ead294"/>
<rect x="369.7" y="624.96" width="43" height="8.21" fill="#efdc9c"/>
<rect x="412.1" y="624.96" width="43.4" height="8.21" fill="#f3eaa6"/>
<rect x="454.9" y="624.96" width="43" height="8.21" fill="#cecbbf"/>
<rect x="497.3" y="624.96" width="43" height="8.21" fill="#d0cdbe"/>
<rect x="539.7" y="624.96" width="42.3" height="8.21" fill="#c9c5c2"/>
<rect x="327.3" y="632.57" width="43" height="8.21" fill="#e9d294"/>
<rect x="369.7" y="632.57" width="43" height="8.21" fill="#f0e0a0"/>
<rect x="412.1" y="632.57" width="43.4" height="8.21" fill="#efdf9e"/>
<rect x="454.9" y="632.57" width="43" height="8.21" fill="#cbc8bf"/>
<rect x="497.3" y="632.57" width="43" height="8.21" fill="#cfcbbf"/>
<rect x="539.7" y="632.57" width="42.3" height="8.21" fill="#cdc9c0"/>
<rect x="327.3" y="640.17" width="43" height="8.21" fill="#ead496"/>
<rect x="369.7" y="640.17" width="43" height="8.21" fill="#eed99a"/>
<rect x="412.1" y="640.17" width="43.4" height="8.21" fill="#efdf9e"/>
<rect x="454.9" y="640.17" width="43" height="8.21" fill="#a9a4c4"/>
<rect x="497.3" y="640.17" width="43" height="8.21" fill="#cdc9bf"/>
<rect x="539.7" y="640.17" width="42.3" height="8.21" fill="#c9c5c3"/>
<rect x="327.3" y="647.78" width="43" height="8.21" fill="#ead496"/>
<rect x="369.7" y="647.78" width="43" height="8.21" fill="#f0e1a0"/>
<rect x="412.1" y="647.78" width="43.4" height="8.21" fill="#ebd598"/>
<rect x="454.9" y="647.78" width="43" height="8.21" fill="#aaa5c4"/>
<rect x="497.3" y="647.78" width="43" height="8.21" fill="#c9c5c3"/>
<rect x="539.7" y="647.78" width="42.3" height="8.21" fill="#b4afc6"/>
<rect x="327.3" y="655.39" width="43" height="8.21" fill="#e9d092"/>
<rect x="369.7" y="655.39" width="43" height="8.21" fill="#efdf9e"/>
<rect x="412.1" y="655.39" width="43.4" height="8.21" fill="#efdf9e"/>
<rect x="454.9" y="655.39" width="43" height="8.21" fill="#c9c5c2"/>
<rect x="497.3" y="655.39" width="43" height="8.21" fill="#c0bbc6"/>
<rect x="539.7" y="655.39" width="42.3" height="8.21" fill="#c4c0c4"/>
<rect x="327.3" y="662.99" width="43" height="8.21" fill="#ead296"/>
<rect x="369.7" y="662.99" width="43" height="8.21" fill="#efdd9c"/>
<rect x="412.1" y="662.99" width="43.4" height="8.21" fill="#efdf9e"/>
<rect x="454.9" y="662.99" width="43" height="8.21" fill="#c4c0c4"/>
<rect x="497.3" y="662.99" width="43" height="8.21" fill="#c4c0c4"/>
<rect x="539.7" y="662.99" width="42.3" height="8.21" fill="#c2bec6"/>
<rect x="327.3" y="670.6" width="43" height="8.21" fill="#e9d092"/>
<rect x="369.7" y="670.6" width="43" height="8.21" fill="#eedb9c"/>
<rect x="412.1" y="670.6" width="43.4" height="8.21" fill="#efdc9c"/>
<rect x="454.9" y="670.6" width="43" height="8.21" fill="#c4c0c2"/>
<rect x="497.3" y="670.6" width="43" height="8.21" fill="#bdb8c6"/>
<rect x="539.7" y="670.6" width="42.3" height="8.21" fill="#c2bec4"/>
<rect x="327.3" y="678.21" width="43" height="8.21" fill="#e9d092"/>
<rect x="369.7" y="678.21" width="43" height="8.21" fill="#eedb9c"/>
<rect x="412.1" y="678.21" width="43.4" height="8.21" fill="#efdc9c"/>
<rect x="454.9" y="678.21" width="43" height="8.21" fill="#c4c0c2"/>
<rect x="497.3" y="678.21" width="43" height="8.21" fill="#c4c0c4"/>
<rect x="539.7" y="678.21" width="42.3" height="8.21" fill="#c2bec4"/>
<rect x="327.3" y="685.81" width="43" height="8.21" fill="#e9d092"/>
<rect x="369.7" y="685.81" width="43" height="8.21" fill="#eedb9c"/>
<rect x="412.1" y="685.81" width="43.4" height="8.21" fill="#eedb9c"/>
<rect x="454.9" y="685.81" width="43" height="8.21" fill="#c4c0c2"/>
<rect x="497.3" y="685.81" width="43" height="8.21" fill="#bdb8c8"/>
<rect x="539.7" y="685.81" width="42.3" height="8.21" fill="#c4c0c4"/>
<rect x="327.3" y="693.42" width="43" height="8.21" fill="#e9d294"/>
<rect x="369.7" y="693.42" width="43" height="8.21" fill="#eedb9c"/>
<rect x="412.1" y="693.42" width="43.4" height="8.21" fill="#ecd698"/>
<rect x="454.9" y="693.42" width="43" height="8.21" fill="#c2bec4"/>
<rect x="497.3" y="693.42" width="43" height="8.21" fill="#b4aec8"/>
<rect x="539.7" y="693.42" width="42.3" height="8.21" fill="#c4c0c2"/>
<rect x="327.3" y="701.02" width="43" height="8.21" fill="#e6c88e"/>
<rect x="369.7" y="701.02" width="43" height="8.21" fill="#f0e0a0"/>
<rect x="412.1" y="701.02" width="43.4" height="8.21" fill="#ecd89a"/>
<rect x="454.9" y="701.02" width="43" height="8.21" fill="#c2bec4"/>
<rect x="497.3" y="701.02" width="43" height="8.21" fill="#c4c0bf"/>
<rect x="539.7" y="701.02" width="42.3" height="8.21" fill="#b3aec8"/>
<rect x="327.3" y="708.63" width="43" height="8.21" fill="#e6c88e"/>
<rect x="369.7" y="708.63" width="43" height="8.21" fill="#efdc9c"/>
<rect x="412.1" y="708.63" width="43.4" height="8.21" fill="#ecd698"/>
<rect x="454.9" y="708.63" width="43" height="8.21" fill="#c0bcc4"/>
<rect x="497.3" y="708.63" width="43" height="8.21" fill="#bab5c8"/>
<rect x="539.7" y="708.63" width="42.3" height="8.21" fill="#b3aec8"/>
<rect x="327.3" y="716.24" width="43" height="8.21" fill="#e3c08a"/>
<rect x="369.7" y="716.24" width="43" height="8.21" fill="#f0e2a0"/>
<rect x="412.1" y="716.24" width="43.4" height="8.21" fill="#efe0a0"/>
<rect x="454.9" y="716.24" width="43" height="8.21" fill="#c4c0c4"/>
<rect x="497.3" y="716.24" width="43" height="8.21" fill="#b8b3c8"/>
<rect x="539.7" y="716.24" width="42.3" height="8.21" fill="#c0bcc6"/>
<rect x="327.3" y="723.84" width="43" height="8.21" fill="#e8ce92"/>
<rect x="369.7" y="723.84" width="43" height="8.21" fill="#ecd698"/>
<rect x="412.1" y="723.84" width="43.4" height="8.21" fill="#ecd698"/>
<rect x="454.9" y="723.84" width="43" height="8.21" fill="#c4c0c4"/>
<rect x="497.3" y="723.84" width="43" height="8.21" fill="#b4aec8"/>
<rect x="539.7" y="723.84" width="42.3" height="8.21" fill="#b0aac8"/>
<rect x="327.3" y="731.45" width="43" height="8.21" fill="#e9d092"/>
<rect x="369.7" y="731.45" width="43" height="8.21" fill="#e6ca90"/>
<rect x="412.1" y="731.45" width="43.4" height="8.21" fill="#eedb9c"/>
<rect x="454.9" y="731.45" width="43" height="8.21" fill="#bcb7c6"/>
<rect x="497.3" y="731.45" width="43" height="8.21" fill="#b8b3c8"/>
<rect x="539.7" y="731.45" width="42.3" height="8.21" fill="#b4afc8"/>
<rect x="327.3" y="739.06" width="43" height="8.21" fill="#e8ce92"/>
<rect x="369.7" y="739.06" width="43" height="8.21" fill="#e9d194"/>
<rect x="412.1" y="739.06" width="43.4" height="8.21" fill="#f0e2a0"/>
<rect x="454.9" y="739.06" width="43" height="8.21" fill="#b2acc8"/>
<rect x="497.3" y="739.06" width="43" height="8.21" fill="#a09bcc"/>
<rect x="539.7" y="739.06" width="42.3" height="8.21" fill="#cac7c0"/>
<rect x="327.3" y="746.66" width="43" height="8.21" fill="#e8ce92"/>
<rect x="369.7" y="746.66" width="43" height="8.21" fill="#ead294"/>
<rect x="412.1" y="746.66" width="43.4" height="8.21" fill="#efde9e"/>
<rect x="454.9" y="746.66" width="43" height="8.21" fill="#b0aac8"/>
<rect x="497.3" y="746.66" width="43" height="8.21" fill="#bcb7c6"/>
<rect x="539.7" y="746.66" width="42.3" height="8.21" fill="#bcb7c4"/>
<rect x="327.3" y="754.27" width="43" height="8.21" fill="#e8cd92"/>
<rect x="369.7" y="754.27" width="43" height="8.21" fill="#e9d194"/>
<rect x="412.1" y="754.27" width="43.4" height="8.21" fill="#eedb9c"/>
<rect x="454.9" y="754.27" width="43" height="8.21" fill="#aaa4c8"/>
<rect x="497.3" y="754.27" width="43" height="8.21" fill="#bcb8c4"/>
<rect x="539.7" y="754.27" width="42.3" height="8.21" fill="#b9b4c6"/>
<rect x="327.3" y="761.88" width="43" height="8.21" fill="#e5c68e"/>
<rect x="369.7" y="761.88" width="43" height="8.21" fill="#ead294"/>
<rect x="412.1" y="761.88" width="43.4" height="8.21" fill="#ecd698"/>
<rect x="454.9" y="761.88" width="43" height="8.21" fill="#aaa4c8"/>
<rect x="497.3" y="761.88" width="43" height="8.21" fill="#ada8c8"/>
<rect x="539.7" y="761.88" width="42.3" height="8.21" fill="#b8b3c6"/>
<rect x="327.3" y="769.48" width="43" height="8.21" fill="#e5c68e"/>
<rect x="369.7" y="769.48" width="43" height="8.21" fill="#ead294"/>
<rect x="412.1" y="769.48" width="43.4" height="8.21" fill="#ecd698"/>
<rect x="454.9" y="769.48" width="43" height="8.21" fill="#a29dcc"/>
<rect x="497.3" y="769.48" width="43" height="8.21" fill="#aeaac8"/>
<rect x="539.7" y="769.48" width="42.3" height="8.21" fill="#b4afc8"/>
<rect x="327.3" y="777.09" width="43" height="8.21" fill="#e3c08a"/>
<rect x="369.7" y="777.09" width="43" height="8.21" fill="#ead294"/>
<rect x="412.1" y="777.09" width="43.4" height="8.21" fill="#efde9e"/>
<rect x="454.9" y="777.09" width="43" height="8.21" fill="#b4afc8"/>
<rect x="497.3" y="777.09" width="43" height="8.21" fill="#aca6c8"/>
<rect x="539.7" y="777.09" width="42.3" height="8.21" fill="#aaa4ca"/>
<rect x="327.3" y="784.69" width="43" height="7.61" fill="#e6c88e"/>
<rect x="369.7" y="784.69" width="43" height="7.61" fill="#ead294"/>
<rect x="412.1" y="784.69" width="43.4" height="7.61" fill="#f3e8a4"/>
<rect x="454.9" y="784.69" width="43" height="7.61" fill="#d2cfbc"/>
<rect x="497.3" y="784.69" width="43" height="7.61" fill="#b0aac8"/>
<rect x="539.7" y="784.69" width="42.3" height="7.61" fill="#9691cc"/>
<rect x="327.3" y="548.9" width="254.7" height="243.4" fill="none" stroke="#7a7a7a" stroke-width="0.7"/>
<rect x="327.3" y="533.9" width="127.6" height="12.6" fill="#9d8f24"/>
<rect x="454.9" y="533.9" width="127.1" height="12.6" fill="#5c9c36"/>
<text x="584.27" y="543.5" font-size="10.8" fill="#111" textLength="29.27" lengthAdjust="spacingAndGlyphs">Group</text>
<text x="430.29" y="501.2" font-size="11" fill="#111" textLength="45.18" lengthAdjust="spacingAndGlyphs">Heatmap</text>
<g transform="translate(584.4,554.15) scale(0.25)"><text x="0" y="0" font-size="17.4" fill="#3a3a3a" textLength="239.03" lengthAdjust="spacingAndGlyphs" stroke="#3a3a3a" stroke-width="0.5">Orc3_ENSMUSG00000040044</text></g>
<g transform="translate(584.4,561.76) scale(0.25)"><text x="0" y="0" font-size="17.4" fill="#3a3a3a" textLength="239.03" lengthAdjust="spacingAndGlyphs" stroke="#3a3a3a" stroke-width="0.5">Orc4_ENSMUSG00000026761</text></g>
<g transform="translate(584.4,569.37) scale(0.25)"><text x="0" y="0" font-size="17.4" fill="#3a3a3a" textLength="239.03" lengthAdjust="spacingAndGlyphs" stroke="#3a3a3a" stroke-width="0.5">Orc5_ENSMUSG00000029012</text></g>
<g transform="translate(584.4,576.97) scale(0.25)"><text x="0" y="0" font-size="17.4" fill="#3a3a3a" textLength="246.69" lengthAdjust="spacingAndGlyphs" stroke="#3a3a3a" stroke-width="0.5">Gins4_ENSMUSG00000031546</text></g>
<g transform="translate(584.4,584.58) scale(0.25)"><text x="0" y="0" font-size="17.4" fill="#3a3a3a" textLength="246.69" lengthAdjust="spacingAndGlyphs" stroke="#3a3a3a" stroke-width="0.5">Gins3_ENSMUSG00000031669</text></g>
<g transform="translate(584.4,592.18) scale(0.25)"><text x="0" y="0" font-size="17.4" fill="#3a3a3a" textLength="246.69" lengthAdjust="spacingAndGlyphs" stroke="#3a3a3a" stroke-width="0.5">Gins2_ENSMUSG00000031821</text></g>
<g transform="translate(584.4,599.79) scale(0.25)"><text x="0" y="0" font-size="17.4" fill="#3a3a3a" textLength="245.75" lengthAdjust="spacingAndGlyphs" stroke="#3a3a3a" stroke-width="0.5">Pola2_ENSMUSG00000024833</text></g>
<g transform="translate(584.4,607.40) scale(0.25)"><text x="0" y="0" font-size="17.4" fill="#3a3a3a" textLength="246.67" lengthAdjust="spacingAndGlyphs" stroke="#3a3a3a" stroke-width="0.5">Prim2_ENSMUSG00000026134</text></g>
<g transform="translate(584.4,615.00) scale(0.25)"><text x="0" y="0" font-size="17.4" fill="#3a3a3a" textLength="260.09" lengthAdjust="spacingAndGlyphs" stroke="#3a3a3a" stroke-width="0.5">Topbp1_ENSMUSG00000032555</text></g>
<g transform="translate(584.4,622.61) scale(0.25)"><text x="0" y="0" font-size="17.4" fill="#3a3a3a" textLength="239.99" lengthAdjust="spacingAndGlyphs" stroke="#3a3a3a" stroke-width="0.5">Mtbp_ENSMUSG00000022369</text></g>
<g transform="translate(584.4,630.22) scale(0.25)"><text x="0" y="0" font-size="17.4" fill="#3a3a3a" textLength="239.03" lengthAdjust="spacingAndGlyphs" stroke="#3a3a3a" stroke-width="0.5">Orc2_ENSMUSG00000026037</text></g>
<g transform="translate(584.4,637.82) scale(0.25)"><text x="0" y="0" font-size="17.4" fill="#3a3a3a" textLength="239.03" lengthAdjust="spacingAndGlyphs" stroke="#3a3a3a" stroke-width="0.5">Orc6_ENSMUSG00000031697</text></g>
<g transform="translate(584.4,645.43) scale(0.25)"><text x="0" y="0" font-size="17.4" fill="#3a3a3a" textLength="255.3" lengthAdjust="spacingAndGlyphs" stroke="#3a3a3a" stroke-width="0.5">Recql4_ENSMUSG00000033762</text></g>
<g transform="translate(584.4,653.03) scale(0.25)"><text x="0" y="0" font-size="17.4" fill="#3a3a3a" textLength="251.47" lengthAdjust="spacingAndGlyphs" stroke="#3a3a3a" stroke-width="0.5">Cdc45_ENSMUSG00000000028</text></g>
<g transform="translate(584.4,660.64) scale(0.25)"><text x="0" y="0" font-size="17.4" fill="#3a3a3a" textLength="248.58" lengthAdjust="spacingAndGlyphs" stroke="#3a3a3a" stroke-width="0.5">Mcm4_ENSMUSG00000022673</text></g>
<g transform="translate(584.4,668.25) scale(0.25)"><text x="0" y="0" font-size="17.4" fill="#3a3a3a" textLength="241.91" lengthAdjust="spacingAndGlyphs" stroke="#3a3a3a" stroke-width="0.5">Cdc7_ENSMUSG00000029283</text></g>
<g transform="translate(584.4,675.85) scale(0.25)"><text x="0" y="0" font-size="17.4" fill="#3a3a3a" textLength="238.09" lengthAdjust="spacingAndGlyphs" stroke="#3a3a3a" stroke-width="0.5">Dbf4_ENSMUSG00000002297</text></g>
<g transform="translate(584.4,683.46) scale(0.25)"><text x="0" y="0" font-size="17.4" fill="#3a3a3a" textLength="248.58" lengthAdjust="spacingAndGlyphs" stroke="#3a3a3a" stroke-width="0.5">Mcm7_ENSMUSG00000029730</text></g>
<g transform="translate(584.4,691.07) scale(0.25)"><text x="0" y="0" font-size="17.4" fill="#3a3a3a" textLength="248.58" lengthAdjust="spacingAndGlyphs" stroke="#3a3a3a" stroke-width="0.5">Mcm2_ENSMUSG00000002870</text></g>
<g transform="translate(584.4,698.67) scale(0.25)"><text x="0" y="0" font-size="17.4" fill="#3a3a3a" textLength="248.58" lengthAdjust="spacingAndGlyphs" stroke="#3a3a3a" stroke-width="0.5">Mcm6_ENSMUSG00000026355</text></g>
<g transform="translate(584.4,706.28) scale(0.25)"><text x="0" y="0" font-size="17.4" fill="#3a3a3a" textLength="246.67" lengthAdjust="spacingAndGlyphs" stroke="#3a3a3a" stroke-width="0.5">Prim1_ENSMUSG00000025395</text></g>
<g transform="translate(584.4,713.88) scale(0.25)"><text x="0" y="0" font-size="17.4" fill="#3a3a3a" textLength="236.18" lengthAdjust="spacingAndGlyphs" stroke="#3a3a3a" stroke-width="0.5">Pole_ENSMUSG00000007080</text></g>
<g transform="translate(584.4,721.49) scale(0.25)"><text x="0" y="0" font-size="17.4" fill="#3a3a3a" textLength="236.14" lengthAdjust="spacingAndGlyphs" stroke="#3a3a3a" stroke-width="0.5">Ticrr_ENSMUSG00000046591</text></g>
<g transform="translate(584.4,729.10) scale(0.25)"><text x="0" y="0" font-size="17.4" fill="#3a3a3a" textLength="239.03" lengthAdjust="spacingAndGlyphs" stroke="#3a3a3a" stroke-width="0.5">Orc1_ENSMUSG00000028587</text></g>
<g transform="translate(584.4,736.70) scale(0.25)"><text x="0" y="0" font-size="17.4" fill="#3a3a3a" textLength="245.75" lengthAdjust="spacingAndGlyphs" stroke="#3a3a3a" stroke-width="0.5">Pole2_ENSMUSG00000020974</text></g>
<g transform="translate(584.4,744.31) scale(0.25)"><text x="0" y="0" font-size="17.4" fill="#3a3a3a" textLength="246.69" lengthAdjust="spacingAndGlyphs" stroke="#3a3a3a" stroke-width="0.5">Gins1_ENSMUSG00000027454</text></g>
<g transform="translate(584.4,751.92) scale(0.25)"><text x="0" y="0" font-size="17.4" fill="#3a3a3a" textLength="248.58" lengthAdjust="spacingAndGlyphs" stroke="#3a3a3a" stroke-width="0.5">Mcm3_ENSMUSG00000041859</text></g>
<g transform="translate(584.4,759.52) scale(0.25)"><text x="0" y="0" font-size="17.4" fill="#3a3a3a" textLength="245.75" lengthAdjust="spacingAndGlyphs" stroke="#3a3a3a" stroke-width="0.5">Pola1_ENSMUSG00000006678</text></g>
<g transform="translate(584.4,767.13) scale(0.25)"><text x="0" y="0" font-size="17.4" fill="#3a3a3a" textLength="248.58" lengthAdjust="spacingAndGlyphs" stroke="#3a3a3a" stroke-width="0.5">Mcm5_ENSMUSG00000005410</text></g>
<g transform="translate(584.4,774.73) scale(0.25)"><text x="0" y="0" font-size="17.4" fill="#3a3a3a" textLength="258.14" lengthAdjust="spacingAndGlyphs" stroke="#3a3a3a" stroke-width="0.5">Mcm10_ENSMUSG00000026669</text></g>
<g transform="translate(584.4,782.34) scale(0.25)"><text x="0" y="0" font-size="17.4" fill="#3a3a3a" textLength="241.91" lengthAdjust="spacingAndGlyphs" stroke="#3a3a3a" stroke-width="0.5">Cdc6_ENSMUSG00000017499</text></g>
<g transform="translate(584.4,789.95) scale(0.25)"><text x="0" y="0" font-size="17.4" fill="#3a3a3a" textLength="238.09" lengthAdjust="spacingAndGlyphs" stroke="#3a3a3a" stroke-width="0.5">Cdt1_ENSMUSG00000006585</text></g>
<text x="335.05" y="807.1" font-size="9.2" fill="#111" textLength="37.1" lengthAdjust="spacingAndGlyphs">Repeat 1</text>
<text x="378.04" y="807.1" font-size="9.2" fill="#111" textLength="37.83" lengthAdjust="spacingAndGlyphs">Repeat 2</text>
<text x="420.43" y="807.1" font-size="9.2" fill="#111" textLength="37.98" lengthAdjust="spacingAndGlyphs">Repeat 3</text>
<text x="463.24" y="807.1" font-size="9.2" fill="#111" textLength="37.41" lengthAdjust="spacingAndGlyphs">Repeat 1</text>
<text x="506.02" y="807.1" font-size="9.2" fill="#111" textLength="38.45" lengthAdjust="spacingAndGlyphs">Repeat 2</text>
<text x="544.73" y="807.1" font-size="9.2" fill="#111" textLength="37.88" lengthAdjust="spacingAndGlyphs">Repeat 3</text>
<line x1="335" y1="811.4" x2="582.2" y2="811.4" stroke="#111" stroke-width="0.9" />
<text x="356.93" y="823.85" font-size="11.9" fill="#111" font-style="italic" textLength="30.41" lengthAdjust="spacingAndGlyphs">Pole4</text>
<text x="386.79" y="819.6" font-size="6.8" fill="#111" font-style="italic" textLength="5.75" lengthAdjust="spacingAndGlyphs">-/-</text>
<text x="394.01" y="823.85" font-size="11.9" fill="#111" font-style="italic" textLength="31.59" lengthAdjust="spacingAndGlyphs">Trp53</text>
<text x="425.14" y="819.6" font-size="6.8" fill="#111" font-style="italic" textLength="6.62" lengthAdjust="spacingAndGlyphs">-/-</text>
<text x="489.63" y="823.85" font-size="11.9" fill="#111" font-style="italic" textLength="30.52" lengthAdjust="spacingAndGlyphs">Pole4</text>
<text x="519.55" y="819.6" font-size="6.8" fill="#111" font-style="italic" textLength="6.51" lengthAdjust="spacingAndGlyphs">-/-</text>
<text x="526.72" y="823.85" font-size="11.9" fill="#111" font-style="italic" textLength="31.49" lengthAdjust="spacingAndGlyphs">Trp53</text>
<text x="557.62" y="819.6" font-size="6.8" fill="#111" font-style="italic" textLength="10.94" lengthAdjust="spacingAndGlyphs">+/+</text>
<line x1="390.9" y1="532.8" x2="390.9" y2="530.9" stroke="#333" stroke-width="0.8" />
<line x1="433.5" y1="532.8" x2="433.5" y2="530.9" stroke="#333" stroke-width="0.8" />
<line x1="390.9" y1="530.9" x2="433.5" y2="530.9" stroke="#333" stroke-width="0.8" />
<line x1="348.5" y1="532.8" x2="348.5" y2="528" stroke="#333" stroke-width="0.8" />
<line x1="412.2" y1="530.9" x2="412.2" y2="528" stroke="#333" stroke-width="0.8" />
<line x1="348.5" y1="528" x2="412.2" y2="528" stroke="#333" stroke-width="0.8" />
<line x1="518.5" y1="532.8" x2="518.5" y2="530.6" stroke="#333" stroke-width="0.8" />
<line x1="560.85" y1="532.8" x2="560.85" y2="530.6" stroke="#333" stroke-width="0.8" />
<line x1="518.5" y1="530.6" x2="560.85" y2="530.6" stroke="#333" stroke-width="0.8" />
<line x1="476.1" y1="532.8" x2="476.1" y2="528" stroke="#333" stroke-width="0.8" />
<line x1="539.67" y1="530.6" x2="539.67" y2="528" stroke="#333" stroke-width="0.8" />
<line x1="476.1" y1="528" x2="539.67" y2="528" stroke="#333" stroke-width="0.8" />
<line x1="380.35" y1="528" x2="380.35" y2="508.2" stroke="#333" stroke-width="0.8" />
<line x1="507.89" y1="528" x2="507.89" y2="508.2" stroke="#333" stroke-width="0.8" />
<line x1="380.35" y1="508.2" x2="507.89" y2="508.2" stroke="#333" stroke-width="0.8" />
<line x1="323.3" y1="567.92" x2="327.3" y2="567.92" stroke="#333" stroke-width="0.7" />
<line x1="323.3" y1="575.52" x2="327.3" y2="575.52" stroke="#333" stroke-width="0.7" />
<line x1="323.3" y1="567.92" x2="323.3" y2="575.52" stroke="#333" stroke-width="0.7" />
<line x1="322.4" y1="560.31" x2="327.3" y2="560.31" stroke="#333" stroke-width="0.7" />
<line x1="322.4" y1="571.72" x2="323.3" y2="571.72" stroke="#333" stroke-width="0.7" />
<line x1="322.4" y1="560.31" x2="322.4" y2="571.72" stroke="#333" stroke-width="0.7" />
<line x1="317.3" y1="552.7" x2="327.3" y2="552.7" stroke="#333" stroke-width="0.7" />
<line x1="317.3" y1="566.01" x2="322.4" y2="566.01" stroke="#333" stroke-width="0.7" />
<line x1="317.3" y1="552.7" x2="317.3" y2="566.01" stroke="#333" stroke-width="0.7" />
<line x1="322.2" y1="583.13" x2="327.3" y2="583.13" stroke="#333" stroke-width="0.7" />
<line x1="322.2" y1="590.73" x2="327.3" y2="590.73" stroke="#333" stroke-width="0.7" />
<line x1="322.2" y1="583.13" x2="322.2" y2="590.73" stroke="#333" stroke-width="0.7" />
<line x1="325" y1="605.95" x2="327.3" y2="605.95" stroke="#333" stroke-width="0.7" />
<line x1="325" y1="613.55" x2="327.3" y2="613.55" stroke="#333" stroke-width="0.7" />
<line x1="325" y1="605.95" x2="325" y2="613.55" stroke="#333" stroke-width="0.7" />
<line x1="324" y1="609.75" x2="325" y2="609.75" stroke="#333" stroke-width="0.7" />
<line x1="324" y1="621.16" x2="327.3" y2="621.16" stroke="#333" stroke-width="0.7" />
<line x1="324" y1="609.75" x2="324" y2="621.16" stroke="#333" stroke-width="0.7" />
<line x1="323.3" y1="598.34" x2="327.3" y2="598.34" stroke="#333" stroke-width="0.7" />
<line x1="323.3" y1="615.45" x2="324" y2="615.45" stroke="#333" stroke-width="0.7" />
<line x1="323.3" y1="598.34" x2="323.3" y2="615.45" stroke="#333" stroke-width="0.7" />
<line x1="324.3" y1="628.77" x2="327.3" y2="628.77" stroke="#333" stroke-width="0.7" />
<line x1="324.3" y1="636.37" x2="327.3" y2="636.37" stroke="#333" stroke-width="0.7" />
<line x1="324.3" y1="628.77" x2="324.3" y2="636.37" stroke="#333" stroke-width="0.7" />
<line x1="321.4" y1="606.9" x2="323.3" y2="606.9" stroke="#333" stroke-width="0.7" />
<line x1="321.4" y1="632.57" x2="324.3" y2="632.57" stroke="#333" stroke-width="0.7" />
<line x1="321.4" y1="606.9" x2="321.4" y2="632.57" stroke="#333" stroke-width="0.7" />
<line x1="319.3" y1="586.93" x2="322.2" y2="586.93" stroke="#333" stroke-width="0.7" />
<line x1="319.3" y1="619.73" x2="321.4" y2="619.73" stroke="#333" stroke-width="0.7" />
<line x1="319.3" y1="586.93" x2="319.3" y2="619.73" stroke="#333" stroke-width="0.7" />
<line x1="323.3" y1="643.98" x2="327.3" y2="643.98" stroke="#333" stroke-width="0.7" />
<line x1="323.3" y1="651.58" x2="327.3" y2="651.58" stroke="#333" stroke-width="0.7" />
<line x1="323.3" y1="643.98" x2="323.3" y2="651.58" stroke="#333" stroke-width="0.7" />
<line x1="324.6" y1="659.19" x2="327.3" y2="659.19" stroke="#333" stroke-width="0.7" />
<line x1="324.6" y1="666.8" x2="327.3" y2="666.8" stroke="#333" stroke-width="0.7" />
<line x1="324.6" y1="659.19" x2="324.6" y2="666.8" stroke="#333" stroke-width="0.7" />
<line x1="325" y1="682.01" x2="327.3" y2="682.01" stroke="#333" stroke-width="0.7" />
<line x1="325" y1="689.62" x2="327.3" y2="689.62" stroke="#333" stroke-width="0.7" />
<line x1="325" y1="682.01" x2="325" y2="689.62" stroke="#333" stroke-width="0.7" />
<line x1="323.5" y1="674.4" x2="327.3" y2="674.4" stroke="#333" stroke-width="0.7" />
<line x1="323.5" y1="685.81" x2="325" y2="685.81" stroke="#333" stroke-width="0.7" />
<line x1="323.5" y1="674.4" x2="323.5" y2="685.81" stroke="#333" stroke-width="0.7" />
<line x1="322" y1="662.99" x2="324.6" y2="662.99" stroke="#333" stroke-width="0.7" />
<line x1="322" y1="680.11" x2="323.5" y2="680.11" stroke="#333" stroke-width="0.7" />
<line x1="322" y1="662.99" x2="322" y2="680.11" stroke="#333" stroke-width="0.7" />
<line x1="325" y1="704.83" x2="327.3" y2="704.83" stroke="#333" stroke-width="0.7" />
<line x1="325" y1="712.43" x2="327.3" y2="712.43" stroke="#333" stroke-width="0.7" />
<line x1="325" y1="704.83" x2="325" y2="712.43" stroke="#333" stroke-width="0.7" />
<line x1="323.5" y1="697.22" x2="327.3" y2="697.22" stroke="#333" stroke-width="0.7" />
<line x1="323.5" y1="708.63" x2="325" y2="708.63" stroke="#333" stroke-width="0.7" />
<line x1="323.5" y1="697.22" x2="323.5" y2="708.63" stroke="#333" stroke-width="0.7" />
<line x1="324" y1="720.04" x2="327.3" y2="720.04" stroke="#333" stroke-width="0.7" />
<line x1="324" y1="727.65" x2="327.3" y2="727.65" stroke="#333" stroke-width="0.7" />
<line x1="324" y1="720.04" x2="324" y2="727.65" stroke="#333" stroke-width="0.7" />
<line x1="324.5" y1="735.25" x2="327.3" y2="735.25" stroke="#333" stroke-width="0.7" />
<line x1="324.5" y1="742.86" x2="327.3" y2="742.86" stroke="#333" stroke-width="0.7" />
<line x1="324.5" y1="735.25" x2="324.5" y2="742.86" stroke="#333" stroke-width="0.7" />
<line x1="326" y1="773.28" x2="327.3" y2="773.28" stroke="#333" stroke-width="0.7" />
<line x1="326" y1="780.89" x2="327.3" y2="780.89" stroke="#333" stroke-width="0.7" />
<line x1="326" y1="773.28" x2="326" y2="780.89" stroke="#333" stroke-width="0.7" />
<line x1="325.8" y1="765.68" x2="327.3" y2="765.68" stroke="#333" stroke-width="0.7" />
<line x1="325.8" y1="777.09" x2="326" y2="777.09" stroke="#333" stroke-width="0.7" />
<line x1="325.8" y1="765.68" x2="325.8" y2="777.09" stroke="#333" stroke-width="0.7" />
<line x1="324.8" y1="758.07" x2="327.3" y2="758.07" stroke="#333" stroke-width="0.7" />
<line x1="324.8" y1="771.38" x2="325.8" y2="771.38" stroke="#333" stroke-width="0.7" />
<line x1="324.8" y1="758.07" x2="324.8" y2="771.38" stroke="#333" stroke-width="0.7" />
<line x1="323.5" y1="750.47" x2="327.3" y2="750.47" stroke="#333" stroke-width="0.7" />
<line x1="323.5" y1="764.73" x2="324.8" y2="764.73" stroke="#333" stroke-width="0.7" />
<line x1="323.5" y1="750.47" x2="323.5" y2="764.73" stroke="#333" stroke-width="0.7" />
<line x1="322.8" y1="739.06" x2="324.5" y2="739.06" stroke="#333" stroke-width="0.7" />
<line x1="322.8" y1="757.6" x2="323.5" y2="757.6" stroke="#333" stroke-width="0.7" />
<line x1="322.8" y1="739.06" x2="322.8" y2="757.6" stroke="#333" stroke-width="0.7" />
<line x1="322" y1="723.84" x2="324" y2="723.84" stroke="#333" stroke-width="0.7" />
<line x1="322" y1="748.33" x2="322.8" y2="748.33" stroke="#333" stroke-width="0.7" />
<line x1="322" y1="723.84" x2="322" y2="748.33" stroke="#333" stroke-width="0.7" />
<line x1="321.2" y1="702.93" x2="323.5" y2="702.93" stroke="#333" stroke-width="0.7" />
<line x1="321.2" y1="736.09" x2="322" y2="736.09" stroke="#333" stroke-width="0.7" />
<line x1="321.2" y1="702.93" x2="321.2" y2="736.09" stroke="#333" stroke-width="0.7" />
<line x1="320.3" y1="671.55" x2="322" y2="671.55" stroke="#333" stroke-width="0.7" />
<line x1="320.3" y1="719.51" x2="321.2" y2="719.51" stroke="#333" stroke-width="0.7" />
<line x1="320.3" y1="671.55" x2="320.3" y2="719.51" stroke="#333" stroke-width="0.7" />
<line x1="319.5" y1="647.78" x2="323.3" y2="647.78" stroke="#333" stroke-width="0.7" />
<line x1="319.5" y1="695.53" x2="320.3" y2="695.53" stroke="#333" stroke-width="0.7" />
<line x1="319.5" y1="647.78" x2="319.5" y2="695.53" stroke="#333" stroke-width="0.7" />
<line x1="315.2" y1="671.65" x2="319.5" y2="671.65" stroke="#333" stroke-width="0.7" />
<line x1="315.2" y1="788.5" x2="327.3" y2="788.5" stroke="#333" stroke-width="0.7" />
<line x1="315.2" y1="671.65" x2="315.2" y2="788.5" stroke="#333" stroke-width="0.7" />
<line x1="310.6" y1="603.33" x2="319.3" y2="603.33" stroke="#333" stroke-width="0.7" />
<line x1="310.6" y1="730.08" x2="315.2" y2="730.08" stroke="#333" stroke-width="0.7" />
<line x1="310.6" y1="603.33" x2="310.6" y2="730.08" stroke="#333" stroke-width="0.7" />
<line x1="302.2" y1="559.36" x2="317.3" y2="559.36" stroke="#333" stroke-width="0.7" />
<line x1="302.2" y1="666.7" x2="310.6" y2="666.7" stroke="#333" stroke-width="0.7" />
<line x1="302.2" y1="559.36" x2="302.2" y2="666.7" stroke="#333" stroke-width="0.7" />
<text x="653.62" y="645.7" font-size="8.2" fill="#111" font-weight="bold" textLength="71.82" lengthAdjust="spacingAndGlyphs">New_Clustered_2</text>
<defs><linearGradient id="lg" x1="0" y1="0" x2="0" y2="1"><stop offset="0" stop-color="#a3302a"/><stop offset="0.12" stop-color="#b8463a"/><stop offset="0.25" stop-color="#cc7a4c"/><stop offset="0.38" stop-color="#ecc87c"/><stop offset="0.5" stop-color="#fbf6b4"/><stop offset="0.6" stop-color="#c8c4d4"/><stop offset="0.72" stop-color="#6c6cc0"/><stop offset="0.85" stop-color="#3e4aa4"/><stop offset="1" stop-color="#2c3a94"/></linearGradient></defs>
<rect x="654" y="650.3" width="9.6" height="51.7" fill="url(#lg)" stroke="#333" stroke-width="0.6"/>
<line x1="654" y1="652.3" x2="655.6" y2="652.3" stroke="#222" stroke-width="0.6" />
<line x1="662" y1="652.3" x2="663.6" y2="652.3" stroke="#222" stroke-width="0.6" />
<text x="665.8" y="655.8" font-size="8.9" fill="#111">4</text>
<line x1="654" y1="664.3" x2="655.6" y2="664.3" stroke="#222" stroke-width="0.6" />
<line x1="662" y1="664.3" x2="663.6" y2="664.3" stroke="#222" stroke-width="0.6" />
<text x="665.8" y="667.8" font-size="8.9" fill="#111">2</text>
<line x1="654" y1="676.3" x2="655.6" y2="676.3" stroke="#222" stroke-width="0.6" />
<line x1="662" y1="676.3" x2="663.6" y2="676.3" stroke="#222" stroke-width="0.6" />
<text x="665.8" y="679.8" font-size="8.9" fill="#111">0</text>
<line x1="654" y1="688.3" x2="655.6" y2="688.3" stroke="#222" stroke-width="0.6" />
<line x1="662" y1="688.3" x2="663.6" y2="688.3" stroke="#222" stroke-width="0.6" />
<text x="665.8" y="691.8" font-size="8.9" fill="#111">−2</text>
<line x1="654" y1="700.3" x2="655.6" y2="700.3" stroke="#222" stroke-width="0.6" />
<line x1="662" y1="700.3" x2="663.6" y2="700.3" stroke="#222" stroke-width="0.6" />
<text x="665.8" y="703.8" font-size="8.9" fill="#111">−4</text>
</svg></body></html>
